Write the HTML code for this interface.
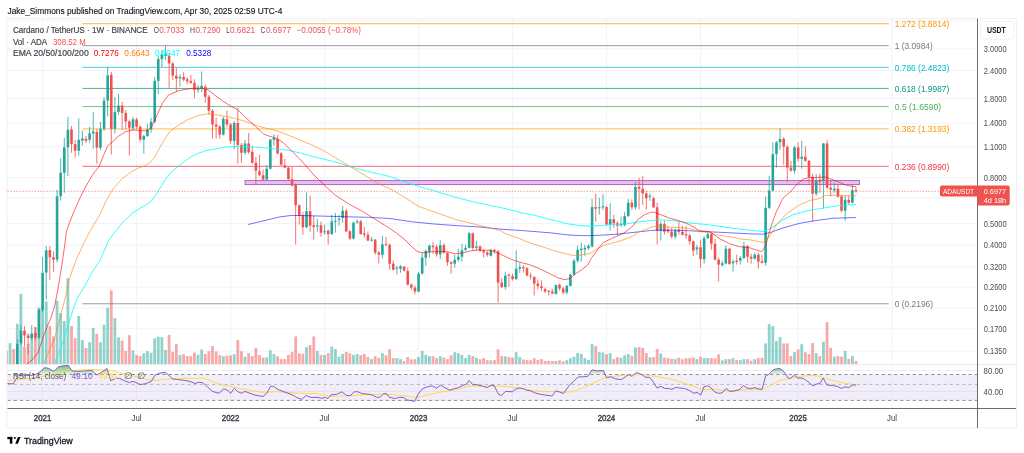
<!DOCTYPE html><html><head><meta charset="utf-8"><title>ADAUSDT chart</title><style>html,body{margin:0;padding:0;background:#fff;width:1024px;height:453px;overflow:hidden;position:relative}</style></head><body><svg width="1024" height="453" viewBox="0 0 1024 453" style="position:absolute;left:0;top:0;will-change:transform">
<defs><clipPath id="cp"><rect x="7" y="19" width="970.5" height="345.5"/></clipPath><clipPath id="cr"><rect x="7.5" y="365" width="970" height="43"/></clipPath><linearGradient id="gg" gradientUnits="userSpaceOnUse" x1="0" y1="364.5" x2="0" y2="374.5"><stop offset="0" stop-color="#4CAF50" stop-opacity="0.85"/><stop offset="1" stop-color="#4CAF50" stop-opacity="0.12"/></linearGradient></defs>
<rect x="7" y="18.5" width="1009.5" height="409.5" fill="#fff" stroke="#EEF0F4" stroke-width="1"/>
<line x1="42.6" y1="19" x2="42.6" y2="408" stroke="#F0F3FA" stroke-width="1"/>
<line x1="136.6" y1="19" x2="136.6" y2="408" stroke="#F0F3FA" stroke-width="1"/>
<line x1="230.6" y1="19" x2="230.6" y2="408" stroke="#F0F3FA" stroke-width="1"/>
<line x1="324.6" y1="19" x2="324.6" y2="408" stroke="#F0F3FA" stroke-width="1"/>
<line x1="418.6" y1="19" x2="418.6" y2="408" stroke="#F0F3FA" stroke-width="1"/>
<line x1="512.6" y1="19" x2="512.6" y2="408" stroke="#F0F3FA" stroke-width="1"/>
<line x1="606.5" y1="19" x2="606.5" y2="408" stroke="#F0F3FA" stroke-width="1"/>
<line x1="700.5" y1="19" x2="700.5" y2="408" stroke="#F0F3FA" stroke-width="1"/>
<line x1="798.1" y1="19" x2="798.1" y2="408" stroke="#F0F3FA" stroke-width="1"/>
<line x1="892.1" y1="19" x2="892.1" y2="408" stroke="#F0F3FA" stroke-width="1"/>
<line x1="7.5" y1="20.79" x2="977" y2="20.79" stroke="#F0F3FA" stroke-width="1"/>
<line x1="7.5" y1="48.84" x2="977" y2="48.84" stroke="#F0F3FA" stroke-width="1"/>
<line x1="7.5" y1="70.59" x2="977" y2="70.59" stroke="#F0F3FA" stroke-width="1"/>
<line x1="7.5" y1="98.64" x2="977" y2="98.64" stroke="#F0F3FA" stroke-width="1"/>
<line x1="7.5" y1="123.14" x2="977" y2="123.14" stroke="#F0F3FA" stroke-width="1"/>
<line x1="7.5" y1="146.66" x2="977" y2="146.66" stroke="#F0F3FA" stroke-width="1"/>
<line x1="7.5" y1="177.71" x2="977" y2="177.71" stroke="#F0F3FA" stroke-width="1"/>
<line x1="7.5" y1="197.95" x2="977" y2="197.95" stroke="#F0F3FA" stroke-width="1"/>
<line x1="7.5" y1="223.53" x2="977" y2="223.53" stroke="#F0F3FA" stroke-width="1"/>
<line x1="7.5" y1="245.29" x2="977" y2="245.29" stroke="#F0F3FA" stroke-width="1"/>
<line x1="7.5" y1="267.04" x2="977" y2="267.04" stroke="#F0F3FA" stroke-width="1"/>
<line x1="7.5" y1="287.29" x2="977" y2="287.29" stroke="#F0F3FA" stroke-width="1"/>
<line x1="7.5" y1="308.11" x2="977" y2="308.11" stroke="#F0F3FA" stroke-width="1"/>
<line x1="7.5" y1="328.71" x2="977" y2="328.71" stroke="#F0F3FA" stroke-width="1"/>
<line x1="7.5" y1="351.19" x2="977" y2="351.19" stroke="#F0F3FA" stroke-width="1"/>
<g clip-path="url(#cp)">
<rect x="5.05" y="350.9" width="2.8" height="13.4" fill="rgba(239,83,80,0.5)"/>
<rect x="8.66" y="343.1" width="2.8" height="21.2" fill="rgba(38,166,154,0.5)"/>
<rect x="12.28" y="349" width="2.8" height="15.3" fill="rgba(239,83,80,0.5)"/>
<rect x="15.9" y="323.8" width="2.8" height="40.5" fill="rgba(38,166,154,0.5)"/>
<rect x="19.51" y="293.9" width="2.8" height="70.4" fill="rgba(38,166,154,0.5)"/>
<rect x="23.12" y="346.6" width="2.8" height="17.7" fill="rgba(239,83,80,0.5)"/>
<rect x="26.74" y="343.7" width="2.8" height="20.6" fill="rgba(239,83,80,0.5)"/>
<rect x="30.36" y="335" width="2.8" height="29.3" fill="rgba(38,166,154,0.5)"/>
<rect x="33.97" y="327" width="2.8" height="37.3" fill="rgba(239,83,80,0.5)"/>
<rect x="37.59" y="308.1" width="2.8" height="56.2" fill="rgba(38,166,154,0.5)"/>
<rect x="41.2" y="306" width="2.8" height="58.3" fill="rgba(38,166,154,0.5)"/>
<rect x="44.82" y="301.5" width="2.8" height="62.8" fill="rgba(38,166,154,0.5)"/>
<rect x="48.43" y="326.1" width="2.8" height="38.2" fill="rgba(239,83,80,0.5)"/>
<rect x="52.05" y="336.4" width="2.8" height="27.9" fill="rgba(239,83,80,0.5)"/>
<rect x="55.66" y="300.6" width="2.8" height="63.7" fill="rgba(38,166,154,0.5)"/>
<rect x="59.28" y="313.1" width="2.8" height="51.2" fill="rgba(38,166,154,0.5)"/>
<rect x="62.89" y="321" width="2.8" height="43.3" fill="rgba(38,166,154,0.5)"/>
<rect x="66.5" y="278.2" width="2.8" height="86.1" fill="rgba(38,166,154,0.5)"/>
<rect x="70.12" y="326.1" width="2.8" height="38.2" fill="rgba(239,83,80,0.5)"/>
<rect x="73.73" y="338.1" width="2.8" height="26.2" fill="rgba(239,83,80,0.5)"/>
<rect x="77.35" y="316" width="2.8" height="48.3" fill="rgba(38,166,154,0.5)"/>
<rect x="80.97" y="340.2" width="2.8" height="24.1" fill="rgba(38,166,154,0.5)"/>
<rect x="84.58" y="348" width="2.8" height="16.3" fill="rgba(239,83,80,0.5)"/>
<rect x="88.19" y="342.3" width="2.8" height="22" fill="rgba(38,166,154,0.5)"/>
<rect x="91.81" y="327.9" width="2.8" height="36.4" fill="rgba(38,166,154,0.5)"/>
<rect x="95.42" y="333.9" width="2.8" height="30.4" fill="rgba(239,83,80,0.5)"/>
<rect x="99.04" y="342.3" width="2.8" height="22" fill="rgba(38,166,154,0.5)"/>
<rect x="102.66" y="324.7" width="2.8" height="39.6" fill="rgba(38,166,154,0.5)"/>
<rect x="106.27" y="307.8" width="2.8" height="56.5" fill="rgba(38,166,154,0.5)"/>
<rect x="109.88" y="290.4" width="2.8" height="73.9" fill="rgba(239,83,80,0.5)"/>
<rect x="113.5" y="318.1" width="2.8" height="46.2" fill="rgba(38,166,154,0.5)"/>
<rect x="117.12" y="337.4" width="2.8" height="26.9" fill="rgba(38,166,154,0.5)"/>
<rect x="120.73" y="340.6" width="2.8" height="23.7" fill="rgba(239,83,80,0.5)"/>
<rect x="124.34" y="350.9" width="2.8" height="13.4" fill="rgba(239,83,80,0.5)"/>
<rect x="127.96" y="335.2" width="2.8" height="29.1" fill="rgba(239,83,80,0.5)"/>
<rect x="131.57" y="350.5" width="2.8" height="13.8" fill="rgba(38,166,154,0.5)"/>
<rect x="135.19" y="355.1" width="2.8" height="9.2" fill="rgba(239,83,80,0.5)"/>
<rect x="138.81" y="356.1" width="2.8" height="8.2" fill="rgba(239,83,80,0.5)"/>
<rect x="142.42" y="353.3" width="2.8" height="11" fill="rgba(38,166,154,0.5)"/>
<rect x="146.03" y="351.2" width="2.8" height="13.1" fill="rgba(38,166,154,0.5)"/>
<rect x="149.65" y="352.8" width="2.8" height="11.5" fill="rgba(38,166,154,0.5)"/>
<rect x="153.27" y="338.4" width="2.8" height="25.9" fill="rgba(38,166,154,0.5)"/>
<rect x="156.88" y="336.8" width="2.8" height="27.5" fill="rgba(38,166,154,0.5)"/>
<rect x="160.5" y="337.1" width="2.8" height="27.2" fill="rgba(38,166,154,0.5)"/>
<rect x="164.11" y="350" width="2.8" height="14.3" fill="rgba(38,166,154,0.5)"/>
<rect x="167.72" y="334.9" width="2.8" height="29.4" fill="rgba(239,83,80,0.5)"/>
<rect x="171.34" y="351.8" width="2.8" height="12.5" fill="rgba(239,83,80,0.5)"/>
<rect x="174.95" y="344" width="2.8" height="20.3" fill="rgba(239,83,80,0.5)"/>
<rect x="178.57" y="355.1" width="2.8" height="9.2" fill="rgba(38,166,154,0.5)"/>
<rect x="182.19" y="354.3" width="2.8" height="10" fill="rgba(239,83,80,0.5)"/>
<rect x="185.8" y="356.1" width="2.8" height="8.2" fill="rgba(239,83,80,0.5)"/>
<rect x="189.41" y="356.1" width="2.8" height="8.2" fill="rgba(239,83,80,0.5)"/>
<rect x="193.03" y="352.5" width="2.8" height="11.8" fill="rgba(239,83,80,0.5)"/>
<rect x="196.65" y="354.8" width="2.8" height="9.5" fill="rgba(38,166,154,0.5)"/>
<rect x="200.26" y="349.4" width="2.8" height="14.9" fill="rgba(38,166,154,0.5)"/>
<rect x="203.88" y="354" width="2.8" height="10.3" fill="rgba(239,83,80,0.5)"/>
<rect x="207.49" y="351.2" width="2.8" height="13.1" fill="rgba(239,83,80,0.5)"/>
<rect x="211.1" y="346.1" width="2.8" height="18.2" fill="rgba(239,83,80,0.5)"/>
<rect x="214.72" y="351.5" width="2.8" height="12.8" fill="rgba(239,83,80,0.5)"/>
<rect x="218.34" y="355.1" width="2.8" height="9.2" fill="rgba(239,83,80,0.5)"/>
<rect x="221.95" y="356.1" width="2.8" height="8.2" fill="rgba(38,166,154,0.5)"/>
<rect x="225.56" y="355.6" width="2.8" height="8.7" fill="rgba(239,83,80,0.5)"/>
<rect x="229.18" y="355.3" width="2.8" height="9" fill="rgba(239,83,80,0.5)"/>
<rect x="232.79" y="354.3" width="2.8" height="10" fill="rgba(38,166,154,0.5)"/>
<rect x="236.41" y="340.2" width="2.8" height="24.1" fill="rgba(239,83,80,0.5)"/>
<rect x="240.03" y="351.2" width="2.8" height="13.1" fill="rgba(239,83,80,0.5)"/>
<rect x="243.64" y="356.6" width="2.8" height="7.7" fill="rgba(38,166,154,0.5)"/>
<rect x="247.25" y="353.2" width="2.8" height="11.1" fill="rgba(239,83,80,0.5)"/>
<rect x="250.87" y="356.1" width="2.8" height="8.2" fill="rgba(239,83,80,0.5)"/>
<rect x="254.49" y="348" width="2.8" height="16.3" fill="rgba(239,83,80,0.5)"/>
<rect x="258.1" y="355.1" width="2.8" height="9.2" fill="rgba(239,83,80,0.5)"/>
<rect x="261.72" y="357.6" width="2.8" height="6.7" fill="rgba(239,83,80,0.5)"/>
<rect x="265.33" y="357.2" width="2.8" height="7.1" fill="rgba(38,166,154,0.5)"/>
<rect x="268.95" y="350.3" width="2.8" height="14" fill="rgba(38,166,154,0.5)"/>
<rect x="272.56" y="354" width="2.8" height="10.3" fill="rgba(38,166,154,0.5)"/>
<rect x="276.18" y="356.3" width="2.8" height="8" fill="rgba(239,83,80,0.5)"/>
<rect x="279.79" y="359.1" width="2.8" height="5.2" fill="rgba(239,83,80,0.5)"/>
<rect x="283.41" y="359.1" width="2.8" height="5.2" fill="rgba(239,83,80,0.5)"/>
<rect x="287.02" y="354.9" width="2.8" height="9.4" fill="rgba(239,83,80,0.5)"/>
<rect x="290.64" y="351.9" width="2.8" height="12.4" fill="rgba(239,83,80,0.5)"/>
<rect x="294.25" y="336.4" width="2.8" height="27.9" fill="rgba(239,83,80,0.5)"/>
<rect x="297.87" y="353.2" width="2.8" height="11.1" fill="rgba(239,83,80,0.5)"/>
<rect x="301.48" y="353.7" width="2.8" height="10.6" fill="rgba(239,83,80,0.5)"/>
<rect x="305.1" y="347.1" width="2.8" height="17.2" fill="rgba(38,166,154,0.5)"/>
<rect x="308.71" y="345" width="2.8" height="19.3" fill="rgba(239,83,80,0.5)"/>
<rect x="312.33" y="336.4" width="2.8" height="27.9" fill="rgba(239,83,80,0.5)"/>
<rect x="315.94" y="350.9" width="2.8" height="13.4" fill="rgba(38,166,154,0.5)"/>
<rect x="319.56" y="354.9" width="2.8" height="9.4" fill="rgba(239,83,80,0.5)"/>
<rect x="323.17" y="354.9" width="2.8" height="9.4" fill="rgba(38,166,154,0.5)"/>
<rect x="326.79" y="353" width="2.8" height="11.3" fill="rgba(239,83,80,0.5)"/>
<rect x="330.4" y="346.5" width="2.8" height="17.8" fill="rgba(38,166,154,0.5)"/>
<rect x="334.02" y="349" width="2.8" height="15.3" fill="rgba(38,166,154,0.5)"/>
<rect x="337.63" y="356.6" width="2.8" height="7.7" fill="rgba(38,166,154,0.5)"/>
<rect x="341.25" y="354" width="2.8" height="10.3" fill="rgba(38,166,154,0.5)"/>
<rect x="344.86" y="351.9" width="2.8" height="12.4" fill="rgba(239,83,80,0.5)"/>
<rect x="348.48" y="353.2" width="2.8" height="11.1" fill="rgba(239,83,80,0.5)"/>
<rect x="352.09" y="354.9" width="2.8" height="9.4" fill="rgba(38,166,154,0.5)"/>
<rect x="355.71" y="354" width="2.8" height="10.3" fill="rgba(38,166,154,0.5)"/>
<rect x="359.32" y="355.1" width="2.8" height="9.2" fill="rgba(239,83,80,0.5)"/>
<rect x="362.94" y="354" width="2.8" height="10.3" fill="rgba(239,83,80,0.5)"/>
<rect x="366.55" y="357" width="2.8" height="7.3" fill="rgba(239,83,80,0.5)"/>
<rect x="370.17" y="359.1" width="2.8" height="5.2" fill="rgba(38,166,154,0.5)"/>
<rect x="373.78" y="356.2" width="2.8" height="8.1" fill="rgba(239,83,80,0.5)"/>
<rect x="377.4" y="357.8" width="2.8" height="6.5" fill="rgba(239,83,80,0.5)"/>
<rect x="381.01" y="353.2" width="2.8" height="11.1" fill="rgba(38,166,154,0.5)"/>
<rect x="384.63" y="355.3" width="2.8" height="9" fill="rgba(239,83,80,0.5)"/>
<rect x="388.24" y="349.3" width="2.8" height="15" fill="rgba(239,83,80,0.5)"/>
<rect x="391.86" y="358.1" width="2.8" height="6.2" fill="rgba(239,83,80,0.5)"/>
<rect x="395.47" y="358.1" width="2.8" height="6.2" fill="rgba(38,166,154,0.5)"/>
<rect x="399.09" y="359.1" width="2.8" height="5.2" fill="rgba(38,166,154,0.5)"/>
<rect x="402.7" y="361" width="2.8" height="3.3" fill="rgba(239,83,80,0.5)"/>
<rect x="406.32" y="357" width="2.8" height="7.3" fill="rgba(239,83,80,0.5)"/>
<rect x="409.93" y="359.3" width="2.8" height="5" fill="rgba(239,83,80,0.5)"/>
<rect x="413.55" y="359.1" width="2.8" height="5.2" fill="rgba(239,83,80,0.5)"/>
<rect x="417.16" y="357" width="2.8" height="7.3" fill="rgba(38,166,154,0.5)"/>
<rect x="420.78" y="350.9" width="2.8" height="13.4" fill="rgba(38,166,154,0.5)"/>
<rect x="424.39" y="354.9" width="2.8" height="9.4" fill="rgba(38,166,154,0.5)"/>
<rect x="428.01" y="356.2" width="2.8" height="8.1" fill="rgba(38,166,154,0.5)"/>
<rect x="431.62" y="356.1" width="2.8" height="8.2" fill="rgba(239,83,80,0.5)"/>
<rect x="435.24" y="358.1" width="2.8" height="6.2" fill="rgba(239,83,80,0.5)"/>
<rect x="438.85" y="356.2" width="2.8" height="8.1" fill="rgba(38,166,154,0.5)"/>
<rect x="442.47" y="357.6" width="2.8" height="6.7" fill="rgba(239,83,80,0.5)"/>
<rect x="446.08" y="359.1" width="2.8" height="5.2" fill="rgba(239,83,80,0.5)"/>
<rect x="449.7" y="355.3" width="2.8" height="9" fill="rgba(239,83,80,0.5)"/>
<rect x="453.31" y="352.2" width="2.8" height="12.1" fill="rgba(38,166,154,0.5)"/>
<rect x="456.93" y="353.2" width="2.8" height="11.1" fill="rgba(38,166,154,0.5)"/>
<rect x="460.54" y="354.9" width="2.8" height="9.4" fill="rgba(38,166,154,0.5)"/>
<rect x="464.16" y="358.1" width="2.8" height="6.2" fill="rgba(38,166,154,0.5)"/>
<rect x="467.77" y="354.9" width="2.8" height="9.4" fill="rgba(38,166,154,0.5)"/>
<rect x="471.39" y="356.1" width="2.8" height="8.2" fill="rgba(239,83,80,0.5)"/>
<rect x="475" y="357.8" width="2.8" height="6.5" fill="rgba(38,166,154,0.5)"/>
<rect x="478.62" y="359.3" width="2.8" height="5" fill="rgba(239,83,80,0.5)"/>
<rect x="482.23" y="358.1" width="2.8" height="6.2" fill="rgba(239,83,80,0.5)"/>
<rect x="485.85" y="360.1" width="2.8" height="4.2" fill="rgba(239,83,80,0.5)"/>
<rect x="489.46" y="360.3" width="2.8" height="4" fill="rgba(38,166,154,0.5)"/>
<rect x="493.08" y="360.1" width="2.8" height="4.2" fill="rgba(239,83,80,0.5)"/>
<rect x="496.69" y="349.4" width="2.8" height="14.9" fill="rgba(239,83,80,0.5)"/>
<rect x="500.31" y="356.2" width="2.8" height="8.1" fill="rgba(239,83,80,0.5)"/>
<rect x="503.92" y="356.3" width="2.8" height="8" fill="rgba(38,166,154,0.5)"/>
<rect x="507.54" y="357" width="2.8" height="7.3" fill="rgba(239,83,80,0.5)"/>
<rect x="511.15" y="357.6" width="2.8" height="6.7" fill="rgba(239,83,80,0.5)"/>
<rect x="514.77" y="352.2" width="2.8" height="12.1" fill="rgba(38,166,154,0.5)"/>
<rect x="518.38" y="357" width="2.8" height="7.3" fill="rgba(38,166,154,0.5)"/>
<rect x="522" y="359.5" width="2.8" height="4.8" fill="rgba(239,83,80,0.5)"/>
<rect x="525.61" y="360.1" width="2.8" height="4.2" fill="rgba(239,83,80,0.5)"/>
<rect x="529.23" y="360.3" width="2.8" height="4" fill="rgba(239,83,80,0.5)"/>
<rect x="532.84" y="358.2" width="2.8" height="6.1" fill="rgba(239,83,80,0.5)"/>
<rect x="536.46" y="360.1" width="2.8" height="4.2" fill="rgba(239,83,80,0.5)"/>
<rect x="540.07" y="359.1" width="2.8" height="5.2" fill="rgba(239,83,80,0.5)"/>
<rect x="543.69" y="361" width="2.8" height="3.3" fill="rgba(239,83,80,0.5)"/>
<rect x="547.3" y="361" width="2.8" height="3.3" fill="rgba(239,83,80,0.5)"/>
<rect x="550.92" y="361" width="2.8" height="3.3" fill="rgba(239,83,80,0.5)"/>
<rect x="554.53" y="361" width="2.8" height="3.3" fill="rgba(38,166,154,0.5)"/>
<rect x="558.15" y="360.3" width="2.8" height="4" fill="rgba(239,83,80,0.5)"/>
<rect x="561.76" y="361.2" width="2.8" height="3.1" fill="rgba(239,83,80,0.5)"/>
<rect x="565.38" y="360.1" width="2.8" height="4.2" fill="rgba(38,166,154,0.5)"/>
<rect x="568.99" y="358.1" width="2.8" height="6.2" fill="rgba(38,166,154,0.5)"/>
<rect x="572.61" y="356.6" width="2.8" height="7.7" fill="rgba(38,166,154,0.5)"/>
<rect x="576.22" y="353" width="2.8" height="11.3" fill="rgba(38,166,154,0.5)"/>
<rect x="579.84" y="354" width="2.8" height="10.3" fill="rgba(38,166,154,0.5)"/>
<rect x="583.45" y="358.1" width="2.8" height="6.2" fill="rgba(38,166,154,0.5)"/>
<rect x="587.07" y="360" width="2.8" height="4.3" fill="rgba(38,166,154,0.5)"/>
<rect x="590.68" y="344.2" width="2.8" height="20.1" fill="rgba(38,166,154,0.5)"/>
<rect x="594.3" y="346.1" width="2.8" height="18.2" fill="rgba(239,83,80,0.5)"/>
<rect x="597.91" y="352.2" width="2.8" height="12.1" fill="rgba(38,166,154,0.5)"/>
<rect x="601.53" y="352.5" width="2.8" height="11.8" fill="rgba(38,166,154,0.5)"/>
<rect x="605.14" y="354.3" width="2.8" height="10" fill="rgba(239,83,80,0.5)"/>
<rect x="608.76" y="353.2" width="2.8" height="11.1" fill="rgba(38,166,154,0.5)"/>
<rect x="612.37" y="359.1" width="2.8" height="5.2" fill="rgba(239,83,80,0.5)"/>
<rect x="615.99" y="357.2" width="2.8" height="7.1" fill="rgba(239,83,80,0.5)"/>
<rect x="619.6" y="357.8" width="2.8" height="6.5" fill="rgba(38,166,154,0.5)"/>
<rect x="623.22" y="355.3" width="2.8" height="9" fill="rgba(38,166,154,0.5)"/>
<rect x="626.83" y="354" width="2.8" height="10.3" fill="rgba(38,166,154,0.5)"/>
<rect x="630.45" y="355.7" width="2.8" height="8.6" fill="rgba(239,83,80,0.5)"/>
<rect x="634.06" y="347.4" width="2.8" height="16.9" fill="rgba(38,166,154,0.5)"/>
<rect x="637.68" y="347.1" width="2.8" height="17.2" fill="rgba(239,83,80,0.5)"/>
<rect x="641.29" y="347.8" width="2.8" height="16.5" fill="rgba(239,83,80,0.5)"/>
<rect x="644.91" y="353" width="2.8" height="11.3" fill="rgba(239,83,80,0.5)"/>
<rect x="648.52" y="357.2" width="2.8" height="7.1" fill="rgba(38,166,154,0.5)"/>
<rect x="652.14" y="357" width="2.8" height="7.3" fill="rgba(239,83,80,0.5)"/>
<rect x="655.75" y="349" width="2.8" height="15.3" fill="rgba(239,83,80,0.5)"/>
<rect x="659.37" y="353.4" width="2.8" height="10.9" fill="rgba(38,166,154,0.5)"/>
<rect x="662.98" y="357.6" width="2.8" height="6.7" fill="rgba(239,83,80,0.5)"/>
<rect x="666.6" y="358.1" width="2.8" height="6.2" fill="rgba(239,83,80,0.5)"/>
<rect x="670.21" y="358.8" width="2.8" height="5.5" fill="rgba(239,83,80,0.5)"/>
<rect x="673.83" y="359.1" width="2.8" height="5.2" fill="rgba(38,166,154,0.5)"/>
<rect x="677.44" y="357.6" width="2.8" height="6.7" fill="rgba(239,83,80,0.5)"/>
<rect x="681.06" y="359.3" width="2.8" height="5" fill="rgba(239,83,80,0.5)"/>
<rect x="684.67" y="358.2" width="2.8" height="6.1" fill="rgba(239,83,80,0.5)"/>
<rect x="688.29" y="358.1" width="2.8" height="6.2" fill="rgba(239,83,80,0.5)"/>
<rect x="691.9" y="357.6" width="2.8" height="6.7" fill="rgba(239,83,80,0.5)"/>
<rect x="695.52" y="359.1" width="2.8" height="5.2" fill="rgba(38,166,154,0.5)"/>
<rect x="699.13" y="356.6" width="2.8" height="7.7" fill="rgba(239,83,80,0.5)"/>
<rect x="702.75" y="358.1" width="2.8" height="6.2" fill="rgba(38,166,154,0.5)"/>
<rect x="706.36" y="358.1" width="2.8" height="6.2" fill="rgba(38,166,154,0.5)"/>
<rect x="709.98" y="358.1" width="2.8" height="6.2" fill="rgba(239,83,80,0.5)"/>
<rect x="713.59" y="358.5" width="2.8" height="5.8" fill="rgba(239,83,80,0.5)"/>
<rect x="717.21" y="354.4" width="2.8" height="9.9" fill="rgba(239,83,80,0.5)"/>
<rect x="720.82" y="360.3" width="2.8" height="4" fill="rgba(38,166,154,0.5)"/>
<rect x="724.44" y="359.1" width="2.8" height="5.2" fill="rgba(38,166,154,0.5)"/>
<rect x="728.05" y="359.1" width="2.8" height="5.2" fill="rgba(239,83,80,0.5)"/>
<rect x="731.67" y="358.2" width="2.8" height="6.1" fill="rgba(38,166,154,0.5)"/>
<rect x="735.28" y="360.1" width="2.8" height="4.2" fill="rgba(239,83,80,0.5)"/>
<rect x="738.9" y="360.1" width="2.8" height="4.2" fill="rgba(38,166,154,0.5)"/>
<rect x="742.51" y="359.1" width="2.8" height="5.2" fill="rgba(38,166,154,0.5)"/>
<rect x="746.13" y="359.1" width="2.8" height="5.2" fill="rgba(239,83,80,0.5)"/>
<rect x="749.74" y="360.7" width="2.8" height="3.6" fill="rgba(239,83,80,0.5)"/>
<rect x="753.36" y="359.1" width="2.8" height="5.2" fill="rgba(38,166,154,0.5)"/>
<rect x="756.97" y="358.1" width="2.8" height="6.2" fill="rgba(239,83,80,0.5)"/>
<rect x="760.59" y="357.8" width="2.8" height="6.5" fill="rgba(239,83,80,0.5)"/>
<rect x="764.2" y="343.4" width="2.8" height="20.9" fill="rgba(38,166,154,0.5)"/>
<rect x="767.82" y="324.1" width="2.8" height="40.2" fill="rgba(38,166,154,0.5)"/>
<rect x="771.43" y="326.1" width="2.8" height="38.2" fill="rgba(38,166,154,0.5)"/>
<rect x="775.05" y="341.1" width="2.8" height="23.2" fill="rgba(38,166,154,0.5)"/>
<rect x="778.66" y="337.1" width="2.8" height="27.2" fill="rgba(38,166,154,0.5)"/>
<rect x="782.28" y="343.4" width="2.8" height="20.9" fill="rgba(239,83,80,0.5)"/>
<rect x="785.89" y="343.4" width="2.8" height="20.9" fill="rgba(239,83,80,0.5)"/>
<rect x="789.51" y="355.9" width="2.8" height="8.4" fill="rgba(239,83,80,0.5)"/>
<rect x="793.12" y="352.2" width="2.8" height="12.1" fill="rgba(38,166,154,0.5)"/>
<rect x="796.74" y="349.4" width="2.8" height="14.9" fill="rgba(239,83,80,0.5)"/>
<rect x="800.35" y="344.2" width="2.8" height="20.1" fill="rgba(38,166,154,0.5)"/>
<rect x="803.97" y="352.2" width="2.8" height="12.1" fill="rgba(239,83,80,0.5)"/>
<rect x="807.58" y="354" width="2.8" height="10.3" fill="rgba(239,83,80,0.5)"/>
<rect x="811.2" y="343.1" width="2.8" height="21.2" fill="rgba(239,83,80,0.5)"/>
<rect x="814.81" y="353.2" width="2.8" height="11.1" fill="rgba(38,166,154,0.5)"/>
<rect x="818.43" y="356.1" width="2.8" height="8.2" fill="rgba(239,83,80,0.5)"/>
<rect x="822.04" y="341.8" width="2.8" height="22.5" fill="rgba(38,166,154,0.5)"/>
<rect x="825.66" y="322.2" width="2.8" height="42.1" fill="rgba(239,83,80,0.5)"/>
<rect x="829.27" y="347.8" width="2.8" height="16.5" fill="rgba(239,83,80,0.5)"/>
<rect x="832.89" y="356.6" width="2.8" height="7.7" fill="rgba(38,166,154,0.5)"/>
<rect x="836.5" y="356.1" width="2.8" height="8.2" fill="rgba(239,83,80,0.5)"/>
<rect x="840.12" y="356.6" width="2.8" height="7.7" fill="rgba(239,83,80,0.5)"/>
<rect x="843.73" y="350.9" width="2.8" height="13.4" fill="rgba(38,166,154,0.5)"/>
<rect x="847.35" y="358.8" width="2.8" height="5.5" fill="rgba(239,83,80,0.5)"/>
<rect x="850.96" y="356.1" width="2.8" height="8.2" fill="rgba(38,166,154,0.5)"/>
<rect x="854.58" y="361" width="2.8" height="3.3" fill="rgba(239,83,80,0.5)"/>
<line x1="82.5" y1="23.72" x2="888.7" y2="23.72" stroke="#FF9800" stroke-opacity="0.75" stroke-width="1"/>
<line x1="82.5" y1="45.69" x2="888.7" y2="45.69" stroke="#787B86" stroke-opacity="0.75" stroke-width="1"/>
<line x1="82.5" y1="67.31" x2="888.7" y2="67.31" stroke="#00BCD4" stroke-opacity="0.75" stroke-width="1"/>
<line x1="82.5" y1="88.43" x2="888.7" y2="88.43" stroke="#089981" stroke-opacity="0.75" stroke-width="1"/>
<line x1="82.5" y1="106.59" x2="888.7" y2="106.59" stroke="#4CAF50" stroke-opacity="0.75" stroke-width="1"/>
<line x1="82.5" y1="128.93" x2="888.7" y2="128.93" stroke="#FFB74D" stroke-opacity="0.55" stroke-width="1.8"/>
<line x1="82.5" y1="166.33" x2="888.7" y2="166.33" stroke="#F23645" stroke-opacity="0.75" stroke-width="1"/>
<line x1="82.5" y1="303.75" x2="888.7" y2="303.75" stroke="#787B86" stroke-opacity="0.75" stroke-width="1"/>
<rect x="245" y="180.6" width="614.5" height="4" fill="rgba(156,39,176,0.28)" stroke="#9C27B0" stroke-opacity="0.75" stroke-width="0.9"/>
<line x1="7.5" y1="191.3" x2="977" y2="191.3" stroke="#EF5350" stroke-opacity="0.7" stroke-width="1" stroke-dasharray="1.2,1.8"/>
<rect x="16.8" y="339.2" width="1" height="40.8" fill="#26A69A" fill-opacity="0.8"/>
<rect x="16" y="343.9" width="2.6" height="28.1" fill="#26A69A"/>
<rect x="20.41" y="325" width="1" height="20" fill="#26A69A" fill-opacity="0.8"/>
<rect x="19.61" y="330.7" width="2.6" height="12.4" fill="#26A69A"/>
<rect x="24.02" y="326.1" width="1" height="20.1" fill="#EF5350" fill-opacity="0.8"/>
<rect x="23.22" y="330.7" width="2.6" height="4.7" fill="#EF5350"/>
<rect x="27.64" y="333" width="1" height="21.7" fill="#EF5350" fill-opacity="0.8"/>
<rect x="26.84" y="335.4" width="2.6" height="2.6" fill="#EF5350"/>
<rect x="31.26" y="325" width="1" height="15" fill="#26A69A" fill-opacity="0.8"/>
<rect x="30.46" y="333.5" width="2.6" height="4.5" fill="#26A69A"/>
<rect x="34.87" y="327" width="1" height="13" fill="#EF5350" fill-opacity="0.8"/>
<rect x="34.07" y="333" width="2.6" height="4.7" fill="#EF5350"/>
<rect x="38.48" y="307.6" width="1" height="31.4" fill="#26A69A" fill-opacity="0.8"/>
<rect x="37.69" y="309.9" width="2.6" height="27.8" fill="#26A69A"/>
<rect x="42.1" y="257" width="1" height="55" fill="#26A69A" fill-opacity="0.8"/>
<rect x="41.3" y="272.9" width="2.6" height="37" fill="#26A69A"/>
<rect x="45.72" y="246" width="1" height="53.6" fill="#26A69A" fill-opacity="0.8"/>
<rect x="44.92" y="250.3" width="2.6" height="22.2" fill="#26A69A"/>
<rect x="49.33" y="246" width="1" height="33.8" fill="#EF5350" fill-opacity="0.8"/>
<rect x="48.53" y="250" width="2.6" height="7.2" fill="#EF5350"/>
<rect x="52.95" y="251.3" width="1" height="20.5" fill="#EF5350" fill-opacity="0.8"/>
<rect x="52.15" y="257.2" width="2.6" height="2.4" fill="#EF5350"/>
<rect x="56.56" y="189.7" width="1" height="72.8" fill="#26A69A" fill-opacity="0.8"/>
<rect x="55.76" y="196.3" width="2.6" height="63.3" fill="#26A69A"/>
<rect x="60.18" y="158.3" width="1" height="42.3" fill="#26A69A" fill-opacity="0.8"/>
<rect x="59.38" y="172.7" width="2.6" height="23.6" fill="#26A69A"/>
<rect x="63.79" y="137.8" width="1" height="54.9" fill="#26A69A" fill-opacity="0.8"/>
<rect x="62.99" y="147.4" width="2.6" height="25.4" fill="#26A69A"/>
<rect x="67.41" y="116.9" width="1" height="59.1" fill="#26A69A" fill-opacity="0.8"/>
<rect x="66.61" y="129.8" width="2.6" height="17.6" fill="#26A69A"/>
<rect x="71.02" y="125.8" width="1" height="26.9" fill="#EF5350" fill-opacity="0.8"/>
<rect x="70.22" y="129.4" width="2.6" height="14.7" fill="#EF5350"/>
<rect x="74.64" y="140" width="1" height="17.3" fill="#EF5350" fill-opacity="0.8"/>
<rect x="73.84" y="144.1" width="2.6" height="6.6" fill="#EF5350"/>
<rect x="78.25" y="118.3" width="1" height="37.4" fill="#26A69A" fill-opacity="0.8"/>
<rect x="77.45" y="139.8" width="2.6" height="10.9" fill="#26A69A"/>
<rect x="81.87" y="130.8" width="1" height="14.9" fill="#26A69A" fill-opacity="0.8"/>
<rect x="81.07" y="138.5" width="2.6" height="2" fill="#26A69A"/>
<rect x="85.48" y="136" width="1" height="7" fill="#EF5350" fill-opacity="0.8"/>
<rect x="84.68" y="138.8" width="2.6" height="2" fill="#EF5350"/>
<rect x="89.09" y="126.8" width="1" height="15.9" fill="#26A69A" fill-opacity="0.8"/>
<rect x="88.3" y="133.4" width="2.6" height="6.4" fill="#26A69A"/>
<rect x="92.71" y="112.3" width="1" height="36.4" fill="#26A69A" fill-opacity="0.8"/>
<rect x="91.91" y="131.5" width="2.6" height="2" fill="#26A69A"/>
<rect x="96.33" y="128.8" width="1" height="34.8" fill="#EF5350" fill-opacity="0.8"/>
<rect x="95.53" y="131.8" width="2.6" height="15.9" fill="#EF5350"/>
<rect x="99.94" y="121.9" width="1" height="28.1" fill="#26A69A" fill-opacity="0.8"/>
<rect x="99.14" y="128.8" width="2.6" height="18.9" fill="#26A69A"/>
<rect x="103.56" y="97" width="1" height="34" fill="#26A69A" fill-opacity="0.8"/>
<rect x="102.76" y="100.6" width="2.6" height="28.2" fill="#26A69A"/>
<rect x="107.17" y="66.8" width="1" height="49.7" fill="#26A69A" fill-opacity="0.8"/>
<rect x="106.37" y="75.4" width="2.6" height="25.2" fill="#26A69A"/>
<rect x="110.78" y="72" width="1" height="82.6" fill="#EF5350" fill-opacity="0.8"/>
<rect x="109.98" y="74.8" width="2.6" height="54" fill="#EF5350"/>
<rect x="114.4" y="97" width="1" height="36.7" fill="#26A69A" fill-opacity="0.8"/>
<rect x="113.6" y="111.9" width="2.6" height="16.9" fill="#26A69A"/>
<rect x="118.02" y="94" width="1" height="20.8" fill="#26A69A" fill-opacity="0.8"/>
<rect x="117.22" y="105.5" width="2.6" height="6.4" fill="#26A69A"/>
<rect x="121.63" y="101.9" width="1" height="27.9" fill="#EF5350" fill-opacity="0.8"/>
<rect x="120.83" y="105.5" width="2.6" height="7.4" fill="#EF5350"/>
<rect x="125.25" y="110" width="1" height="19.4" fill="#EF5350" fill-opacity="0.8"/>
<rect x="124.45" y="112.9" width="2.6" height="8.5" fill="#EF5350"/>
<rect x="128.86" y="119.8" width="1" height="35.8" fill="#EF5350" fill-opacity="0.8"/>
<rect x="128.06" y="121.4" width="2.6" height="6.4" fill="#EF5350"/>
<rect x="132.47" y="116.8" width="1" height="14" fill="#26A69A" fill-opacity="0.8"/>
<rect x="131.67" y="119.4" width="2.6" height="8.4" fill="#26A69A"/>
<rect x="136.09" y="117.8" width="1" height="11.2" fill="#EF5350" fill-opacity="0.8"/>
<rect x="135.29" y="119.4" width="2.6" height="7.4" fill="#EF5350"/>
<rect x="139.71" y="125.4" width="1" height="16.3" fill="#EF5350" fill-opacity="0.8"/>
<rect x="138.91" y="126.8" width="2.6" height="12.9" fill="#EF5350"/>
<rect x="143.32" y="134.7" width="1" height="18.9" fill="#26A69A" fill-opacity="0.8"/>
<rect x="142.52" y="136.1" width="2.6" height="3.6" fill="#26A69A"/>
<rect x="146.94" y="123.8" width="1" height="12.9" fill="#26A69A" fill-opacity="0.8"/>
<rect x="146.13" y="129.4" width="2.6" height="6.7" fill="#26A69A"/>
<rect x="150.55" y="117.8" width="1" height="14.9" fill="#26A69A" fill-opacity="0.8"/>
<rect x="149.75" y="121.8" width="2.6" height="7.6" fill="#26A69A"/>
<rect x="154.17" y="76.8" width="1" height="46.2" fill="#26A69A" fill-opacity="0.8"/>
<rect x="153.37" y="80.8" width="2.6" height="41" fill="#26A69A"/>
<rect x="157.78" y="56" width="1" height="38" fill="#26A69A" fill-opacity="0.8"/>
<rect x="156.98" y="59.1" width="2.6" height="21.7" fill="#26A69A"/>
<rect x="161.4" y="50" width="1" height="17" fill="#26A69A" fill-opacity="0.8"/>
<rect x="160.59" y="54.5" width="2.6" height="4.6" fill="#26A69A"/>
<rect x="165.01" y="45.6" width="1" height="14.4" fill="#26A69A" fill-opacity="0.8"/>
<rect x="164.21" y="53.5" width="2.6" height="2.5" fill="#26A69A"/>
<rect x="168.62" y="53" width="1" height="34.7" fill="#EF5350" fill-opacity="0.8"/>
<rect x="167.82" y="55.9" width="2.6" height="7.6" fill="#EF5350"/>
<rect x="172.24" y="62" width="1" height="18" fill="#EF5350" fill-opacity="0.8"/>
<rect x="171.44" y="63.5" width="2.6" height="12.1" fill="#EF5350"/>
<rect x="175.85" y="67.8" width="1" height="23.8" fill="#EF5350" fill-opacity="0.8"/>
<rect x="175.05" y="75.7" width="2.6" height="2.9" fill="#EF5350"/>
<rect x="179.47" y="74.2" width="1" height="12.3" fill="#26A69A" fill-opacity="0.8"/>
<rect x="178.67" y="77" width="2.6" height="1.4" fill="#26A69A"/>
<rect x="183.09" y="72.2" width="1" height="9.3" fill="#EF5350" fill-opacity="0.8"/>
<rect x="182.28" y="77" width="2.6" height="2.7" fill="#EF5350"/>
<rect x="186.7" y="77" width="1" height="7.5" fill="#EF5350" fill-opacity="0.8"/>
<rect x="185.9" y="79.2" width="2.6" height="2" fill="#EF5350"/>
<rect x="190.31" y="75" width="1" height="9" fill="#EF5350" fill-opacity="0.8"/>
<rect x="189.51" y="81" width="2.6" height="1.8" fill="#EF5350"/>
<rect x="193.93" y="79.3" width="1" height="18.9" fill="#EF5350" fill-opacity="0.8"/>
<rect x="193.13" y="82.9" width="2.6" height="7.1" fill="#EF5350"/>
<rect x="197.55" y="84.9" width="1" height="7.9" fill="#26A69A" fill-opacity="0.8"/>
<rect x="196.75" y="87.8" width="2.6" height="2" fill="#26A69A"/>
<rect x="201.16" y="71.5" width="1" height="20.3" fill="#26A69A" fill-opacity="0.8"/>
<rect x="200.36" y="85.8" width="2.6" height="3" fill="#26A69A"/>
<rect x="204.78" y="84.3" width="1" height="18.4" fill="#EF5350" fill-opacity="0.8"/>
<rect x="203.97" y="86.8" width="2.6" height="10" fill="#EF5350"/>
<rect x="208.39" y="95" width="1" height="19.7" fill="#EF5350" fill-opacity="0.8"/>
<rect x="207.59" y="96.8" width="2.6" height="13.9" fill="#EF5350"/>
<rect x="212" y="109" width="1" height="29.5" fill="#EF5350" fill-opacity="0.8"/>
<rect x="211.2" y="110.7" width="2.6" height="13.9" fill="#EF5350"/>
<rect x="215.62" y="117.7" width="1" height="20.8" fill="#EF5350" fill-opacity="0.8"/>
<rect x="214.82" y="124.6" width="2.6" height="2" fill="#EF5350"/>
<rect x="219.24" y="125" width="1" height="13.9" fill="#EF5350" fill-opacity="0.8"/>
<rect x="218.44" y="126.6" width="2.6" height="8" fill="#EF5350"/>
<rect x="222.85" y="116.7" width="1" height="18.8" fill="#26A69A" fill-opacity="0.8"/>
<rect x="222.05" y="118.6" width="2.6" height="16" fill="#26A69A"/>
<rect x="226.47" y="110.7" width="1" height="16.9" fill="#EF5350" fill-opacity="0.8"/>
<rect x="225.66" y="119.2" width="2.6" height="5.2" fill="#EF5350"/>
<rect x="230.08" y="123" width="1" height="20.9" fill="#EF5350" fill-opacity="0.8"/>
<rect x="229.28" y="124.4" width="2.6" height="16.5" fill="#EF5350"/>
<rect x="233.69" y="121" width="1" height="28.4" fill="#26A69A" fill-opacity="0.8"/>
<rect x="232.89" y="123" width="2.6" height="17.9" fill="#26A69A"/>
<rect x="237.31" y="107.7" width="1" height="56" fill="#EF5350" fill-opacity="0.8"/>
<rect x="236.51" y="123" width="2.6" height="21.9" fill="#EF5350"/>
<rect x="240.93" y="143" width="1" height="19.7" fill="#EF5350" fill-opacity="0.8"/>
<rect x="240.12" y="144.9" width="2.6" height="7.9" fill="#EF5350"/>
<rect x="244.54" y="139.9" width="1" height="14.9" fill="#26A69A" fill-opacity="0.8"/>
<rect x="243.74" y="143.5" width="2.6" height="9.3" fill="#26A69A"/>
<rect x="248.16" y="132.9" width="1" height="20.9" fill="#EF5350" fill-opacity="0.8"/>
<rect x="247.35" y="143.5" width="2.6" height="8.7" fill="#EF5350"/>
<rect x="251.77" y="145.8" width="1" height="17.9" fill="#EF5350" fill-opacity="0.8"/>
<rect x="250.97" y="151.8" width="2.6" height="10.9" fill="#EF5350"/>
<rect x="255.39" y="156.8" width="1" height="27.2" fill="#EF5350" fill-opacity="0.8"/>
<rect x="254.59" y="162.7" width="2.6" height="8" fill="#EF5350"/>
<rect x="259" y="154.8" width="1" height="20.9" fill="#EF5350" fill-opacity="0.8"/>
<rect x="258.2" y="171.3" width="2.6" height="4" fill="#EF5350"/>
<rect x="262.62" y="169.7" width="1" height="10.8" fill="#EF5350" fill-opacity="0.8"/>
<rect x="261.81" y="175.3" width="2.6" height="4.3" fill="#EF5350"/>
<rect x="266.23" y="164.7" width="1" height="15.2" fill="#26A69A" fill-opacity="0.8"/>
<rect x="265.43" y="168.7" width="2.6" height="10.9" fill="#26A69A"/>
<rect x="269.85" y="138.9" width="1" height="30.6" fill="#26A69A" fill-opacity="0.8"/>
<rect x="269.05" y="139.5" width="2.6" height="29.2" fill="#26A69A"/>
<rect x="273.46" y="134.3" width="1" height="11.5" fill="#26A69A" fill-opacity="0.8"/>
<rect x="272.66" y="137.9" width="2.6" height="2" fill="#26A69A"/>
<rect x="277.08" y="134.9" width="1" height="19.6" fill="#EF5350" fill-opacity="0.8"/>
<rect x="276.28" y="138.9" width="2.6" height="14.5" fill="#EF5350"/>
<rect x="280.69" y="152" width="1" height="13.7" fill="#EF5350" fill-opacity="0.8"/>
<rect x="279.89" y="153.4" width="2.6" height="11.3" fill="#EF5350"/>
<rect x="284.31" y="158.8" width="1" height="9.4" fill="#EF5350" fill-opacity="0.8"/>
<rect x="283.5" y="165.3" width="2.6" height="2.4" fill="#EF5350"/>
<rect x="287.92" y="166.7" width="1" height="12.9" fill="#EF5350" fill-opacity="0.8"/>
<rect x="287.12" y="167.7" width="2.6" height="11.5" fill="#EF5350"/>
<rect x="291.54" y="166.7" width="1" height="19.8" fill="#EF5350" fill-opacity="0.8"/>
<rect x="290.74" y="179.2" width="2.6" height="6.4" fill="#EF5350"/>
<rect x="295.15" y="183.5" width="1" height="61.1" fill="#EF5350" fill-opacity="0.8"/>
<rect x="294.35" y="184.6" width="2.6" height="20.8" fill="#EF5350"/>
<rect x="298.77" y="204" width="1" height="20.7" fill="#EF5350" fill-opacity="0.8"/>
<rect x="297.97" y="205.4" width="2.6" height="10.4" fill="#EF5350"/>
<rect x="302.38" y="211.8" width="1" height="22.9" fill="#EF5350" fill-opacity="0.8"/>
<rect x="301.58" y="215.4" width="2.6" height="11.9" fill="#EF5350"/>
<rect x="306" y="192.3" width="1" height="35.7" fill="#26A69A" fill-opacity="0.8"/>
<rect x="305.2" y="211.2" width="2.6" height="16.1" fill="#26A69A"/>
<rect x="309.61" y="195.5" width="1" height="36.6" fill="#EF5350" fill-opacity="0.8"/>
<rect x="308.81" y="211.2" width="2.6" height="14.5" fill="#EF5350"/>
<rect x="313.23" y="215.8" width="1" height="23.8" fill="#EF5350" fill-opacity="0.8"/>
<rect x="312.43" y="225.3" width="2.6" height="1.6" fill="#EF5350"/>
<rect x="316.84" y="218.8" width="1" height="12.9" fill="#26A69A" fill-opacity="0.8"/>
<rect x="316.04" y="225.3" width="2.6" height="1" fill="#26A69A"/>
<rect x="320.46" y="221.7" width="1" height="15" fill="#EF5350" fill-opacity="0.8"/>
<rect x="319.66" y="225.3" width="2.6" height="7.4" fill="#EF5350"/>
<rect x="324.07" y="224.7" width="1" height="10" fill="#26A69A" fill-opacity="0.8"/>
<rect x="323.27" y="231.3" width="2.6" height="1" fill="#26A69A"/>
<rect x="327.69" y="229.5" width="1" height="15.1" fill="#EF5350" fill-opacity="0.8"/>
<rect x="326.89" y="230.7" width="2.6" height="3.4" fill="#EF5350"/>
<rect x="331.3" y="214.8" width="1" height="20.2" fill="#26A69A" fill-opacity="0.8"/>
<rect x="330.5" y="221.4" width="2.6" height="12.7" fill="#26A69A"/>
<rect x="334.92" y="212.8" width="1" height="19.9" fill="#26A69A" fill-opacity="0.8"/>
<rect x="334.12" y="220.8" width="2.6" height="1" fill="#26A69A"/>
<rect x="338.53" y="214.8" width="1" height="10.9" fill="#26A69A" fill-opacity="0.8"/>
<rect x="337.73" y="218.8" width="2.6" height="1" fill="#26A69A"/>
<rect x="342.15" y="206.2" width="1" height="16.5" fill="#26A69A" fill-opacity="0.8"/>
<rect x="341.35" y="210.8" width="2.6" height="7" fill="#26A69A"/>
<rect x="345.76" y="208.8" width="1" height="23.2" fill="#EF5350" fill-opacity="0.8"/>
<rect x="344.96" y="210.8" width="2.6" height="20.5" fill="#EF5350"/>
<rect x="349.38" y="230" width="1" height="10" fill="#EF5350" fill-opacity="0.8"/>
<rect x="348.58" y="231.3" width="2.6" height="7.3" fill="#EF5350"/>
<rect x="352.99" y="221.7" width="1" height="17.8" fill="#26A69A" fill-opacity="0.8"/>
<rect x="352.19" y="222.7" width="2.6" height="15.9" fill="#26A69A"/>
<rect x="356.61" y="219.4" width="1" height="4.3" fill="#26A69A" fill-opacity="0.8"/>
<rect x="355.81" y="221.4" width="2.6" height="1.1" fill="#26A69A"/>
<rect x="360.22" y="219.8" width="1" height="14.9" fill="#EF5350" fill-opacity="0.8"/>
<rect x="359.42" y="221.4" width="2.6" height="12.7" fill="#EF5350"/>
<rect x="363.84" y="226.7" width="1" height="11" fill="#EF5350" fill-opacity="0.8"/>
<rect x="363.04" y="233.3" width="2.6" height="1.4" fill="#EF5350"/>
<rect x="367.45" y="231.3" width="1" height="9.7" fill="#EF5350" fill-opacity="0.8"/>
<rect x="366.65" y="234.7" width="2.6" height="5.9" fill="#EF5350"/>
<rect x="371.07" y="236.7" width="1" height="4.9" fill="#26A69A" fill-opacity="0.8"/>
<rect x="370.27" y="239.6" width="2.6" height="1" fill="#26A69A"/>
<rect x="374.68" y="239" width="1" height="15.6" fill="#EF5350" fill-opacity="0.8"/>
<rect x="373.88" y="239.6" width="2.6" height="13" fill="#EF5350"/>
<rect x="378.3" y="251" width="1" height="12.5" fill="#EF5350" fill-opacity="0.8"/>
<rect x="377.5" y="252.6" width="2.6" height="2" fill="#EF5350"/>
<rect x="381.91" y="235.9" width="1" height="22.6" fill="#26A69A" fill-opacity="0.8"/>
<rect x="381.11" y="244.4" width="2.6" height="10.4" fill="#26A69A"/>
<rect x="385.53" y="236.9" width="1" height="9.5" fill="#EF5350" fill-opacity="0.8"/>
<rect x="384.73" y="243.8" width="2.6" height="1" fill="#EF5350"/>
<rect x="389.14" y="243.5" width="1" height="26.2" fill="#EF5350" fill-opacity="0.8"/>
<rect x="388.34" y="244.8" width="2.6" height="18.9" fill="#EF5350"/>
<rect x="392.76" y="260.3" width="1" height="10.2" fill="#EF5350" fill-opacity="0.8"/>
<rect x="391.96" y="263.7" width="2.6" height="6" fill="#EF5350"/>
<rect x="396.37" y="265.7" width="1" height="8.9" fill="#26A69A" fill-opacity="0.8"/>
<rect x="395.57" y="267.7" width="2.6" height="1" fill="#26A69A"/>
<rect x="399.99" y="265.1" width="1" height="7.6" fill="#26A69A" fill-opacity="0.8"/>
<rect x="399.19" y="266.3" width="2.6" height="2.4" fill="#26A69A"/>
<rect x="403.6" y="265.7" width="1" height="5.8" fill="#EF5350" fill-opacity="0.8"/>
<rect x="402.8" y="266.7" width="2.6" height="4" fill="#EF5350"/>
<rect x="407.22" y="267.7" width="1" height="17.8" fill="#EF5350" fill-opacity="0.8"/>
<rect x="406.42" y="271.1" width="2.6" height="13.5" fill="#EF5350"/>
<rect x="410.83" y="283.5" width="1" height="6.6" fill="#EF5350" fill-opacity="0.8"/>
<rect x="410.03" y="284.6" width="2.6" height="3" fill="#EF5350"/>
<rect x="414.45" y="285.6" width="1" height="8.9" fill="#EF5350" fill-opacity="0.8"/>
<rect x="413.65" y="287.6" width="2.6" height="3.9" fill="#EF5350"/>
<rect x="418.06" y="271.7" width="1" height="20.6" fill="#26A69A" fill-opacity="0.8"/>
<rect x="417.26" y="273.6" width="2.6" height="17.9" fill="#26A69A"/>
<rect x="421.68" y="252.8" width="1" height="21.8" fill="#26A69A" fill-opacity="0.8"/>
<rect x="420.88" y="257.7" width="2.6" height="15.9" fill="#26A69A"/>
<rect x="425.29" y="249.8" width="1" height="15.9" fill="#26A69A" fill-opacity="0.8"/>
<rect x="424.49" y="250.8" width="2.6" height="6.9" fill="#26A69A"/>
<rect x="428.91" y="244.4" width="1" height="13.3" fill="#26A69A" fill-opacity="0.8"/>
<rect x="428.11" y="245.8" width="2.6" height="6" fill="#26A69A"/>
<rect x="432.52" y="241.8" width="1" height="12" fill="#EF5350" fill-opacity="0.8"/>
<rect x="431.72" y="245.8" width="2.6" height="1.4" fill="#EF5350"/>
<rect x="436.14" y="244.4" width="1" height="12.3" fill="#EF5350" fill-opacity="0.8"/>
<rect x="435.34" y="246.8" width="2.6" height="7.6" fill="#EF5350"/>
<rect x="439.75" y="239.9" width="1" height="19.2" fill="#26A69A" fill-opacity="0.8"/>
<rect x="438.95" y="245.2" width="2.6" height="9.2" fill="#26A69A"/>
<rect x="443.37" y="243.2" width="1" height="10.3" fill="#EF5350" fill-opacity="0.8"/>
<rect x="442.57" y="245.2" width="2.6" height="7.6" fill="#EF5350"/>
<rect x="446.98" y="252" width="1" height="13.7" fill="#EF5350" fill-opacity="0.8"/>
<rect x="446.18" y="252.8" width="2.6" height="9.3" fill="#EF5350"/>
<rect x="450.6" y="261.1" width="1" height="12.5" fill="#EF5350" fill-opacity="0.8"/>
<rect x="449.8" y="262.1" width="2.6" height="1.6" fill="#EF5350"/>
<rect x="454.21" y="254.8" width="1" height="12.9" fill="#26A69A" fill-opacity="0.8"/>
<rect x="453.41" y="259.7" width="2.6" height="4" fill="#26A69A"/>
<rect x="457.83" y="248.8" width="1" height="12.9" fill="#26A69A" fill-opacity="0.8"/>
<rect x="457.03" y="256.7" width="2.6" height="3" fill="#26A69A"/>
<rect x="461.44" y="243.8" width="1" height="17.9" fill="#26A69A" fill-opacity="0.8"/>
<rect x="460.64" y="250.4" width="2.6" height="6.3" fill="#26A69A"/>
<rect x="465.06" y="244.8" width="1" height="6.7" fill="#26A69A" fill-opacity="0.8"/>
<rect x="464.26" y="247.8" width="2.6" height="2" fill="#26A69A"/>
<rect x="468.67" y="231.9" width="1" height="16.6" fill="#26A69A" fill-opacity="0.8"/>
<rect x="467.87" y="233.3" width="2.6" height="14.5" fill="#26A69A"/>
<rect x="472.29" y="232.5" width="1" height="17.9" fill="#EF5350" fill-opacity="0.8"/>
<rect x="471.49" y="233.3" width="2.6" height="14.7" fill="#EF5350"/>
<rect x="475.9" y="240.8" width="1" height="9.6" fill="#26A69A" fill-opacity="0.8"/>
<rect x="475.1" y="246.4" width="2.6" height="1.4" fill="#26A69A"/>
<rect x="479.52" y="245.5" width="1" height="6.3" fill="#EF5350" fill-opacity="0.8"/>
<rect x="478.72" y="246.4" width="2.6" height="4.4" fill="#EF5350"/>
<rect x="483.13" y="249.2" width="1" height="8.5" fill="#EF5350" fill-opacity="0.8"/>
<rect x="482.33" y="250.8" width="2.6" height="1.6" fill="#EF5350"/>
<rect x="486.75" y="251.2" width="1" height="5.5" fill="#EF5350" fill-opacity="0.8"/>
<rect x="485.95" y="252.4" width="2.6" height="2.4" fill="#EF5350"/>
<rect x="490.36" y="248.8" width="1" height="7.7" fill="#26A69A" fill-opacity="0.8"/>
<rect x="489.56" y="249.8" width="2.6" height="6" fill="#26A69A"/>
<rect x="493.98" y="248.8" width="1" height="5" fill="#EF5350" fill-opacity="0.8"/>
<rect x="493.18" y="249.8" width="2.6" height="1.4" fill="#EF5350"/>
<rect x="497.59" y="250" width="1" height="52.5" fill="#EF5350" fill-opacity="0.8"/>
<rect x="496.79" y="251.2" width="2.6" height="31.4" fill="#EF5350"/>
<rect x="501.21" y="278.2" width="1" height="10" fill="#EF5350" fill-opacity="0.8"/>
<rect x="500.41" y="282.6" width="2.6" height="4.4" fill="#EF5350"/>
<rect x="504.82" y="271.7" width="1" height="17.9" fill="#26A69A" fill-opacity="0.8"/>
<rect x="504.02" y="275.6" width="2.6" height="11.4" fill="#26A69A"/>
<rect x="508.44" y="273.6" width="1" height="13.4" fill="#EF5350" fill-opacity="0.8"/>
<rect x="507.64" y="274.6" width="2.6" height="1.2" fill="#EF5350"/>
<rect x="512.05" y="273.6" width="1" height="7" fill="#EF5350" fill-opacity="0.8"/>
<rect x="511.25" y="276.2" width="2.6" height="2.8" fill="#EF5350"/>
<rect x="515.67" y="250.4" width="1" height="29.6" fill="#26A69A" fill-opacity="0.8"/>
<rect x="514.87" y="268.7" width="2.6" height="10.3" fill="#26A69A"/>
<rect x="519.28" y="262.7" width="1" height="10" fill="#26A69A" fill-opacity="0.8"/>
<rect x="518.48" y="267.1" width="2.6" height="1.6" fill="#26A69A"/>
<rect x="522.89" y="265" width="1" height="7.7" fill="#EF5350" fill-opacity="0.8"/>
<rect x="522.1" y="267.1" width="2.6" height="1.2" fill="#EF5350"/>
<rect x="526.51" y="267.1" width="1" height="9.1" fill="#EF5350" fill-opacity="0.8"/>
<rect x="525.71" y="268.3" width="2.6" height="7.3" fill="#EF5350"/>
<rect x="530.12" y="272.7" width="1" height="6.9" fill="#EF5350" fill-opacity="0.8"/>
<rect x="529.33" y="275.6" width="2.6" height="1" fill="#EF5350"/>
<rect x="533.74" y="276" width="1" height="19.5" fill="#EF5350" fill-opacity="0.8"/>
<rect x="532.94" y="277" width="2.6" height="6.6" fill="#EF5350"/>
<rect x="537.36" y="279.6" width="1" height="10" fill="#EF5350" fill-opacity="0.8"/>
<rect x="536.56" y="283.6" width="2.6" height="2.6" fill="#EF5350"/>
<rect x="540.97" y="280.2" width="1" height="10.9" fill="#EF5350" fill-opacity="0.8"/>
<rect x="540.17" y="286.2" width="2.6" height="2" fill="#EF5350"/>
<rect x="544.59" y="287.6" width="1" height="5.4" fill="#EF5350" fill-opacity="0.8"/>
<rect x="543.79" y="289" width="2.6" height="2.5" fill="#EF5350"/>
<rect x="548.2" y="290.1" width="1" height="5.4" fill="#EF5350" fill-opacity="0.8"/>
<rect x="547.4" y="290.9" width="2.6" height="1" fill="#EF5350"/>
<rect x="551.82" y="288.6" width="1" height="5.5" fill="#EF5350" fill-opacity="0.8"/>
<rect x="551.02" y="291.5" width="2.6" height="2" fill="#EF5350"/>
<rect x="555.43" y="284.6" width="1" height="9.9" fill="#26A69A" fill-opacity="0.8"/>
<rect x="554.63" y="285" width="2.6" height="9.1" fill="#26A69A"/>
<rect x="559.05" y="283.6" width="1" height="6.9" fill="#EF5350" fill-opacity="0.8"/>
<rect x="558.25" y="284.6" width="2.6" height="3.9" fill="#EF5350"/>
<rect x="562.66" y="286.6" width="1" height="7.9" fill="#EF5350" fill-opacity="0.8"/>
<rect x="561.86" y="288.5" width="2.6" height="4" fill="#EF5350"/>
<rect x="566.28" y="285" width="1" height="9.5" fill="#26A69A" fill-opacity="0.8"/>
<rect x="565.48" y="285.9" width="2.6" height="6.6" fill="#26A69A"/>
<rect x="569.89" y="273.6" width="1" height="12.9" fill="#26A69A" fill-opacity="0.8"/>
<rect x="569.09" y="274.6" width="2.6" height="11.3" fill="#26A69A"/>
<rect x="573.51" y="258.7" width="1" height="16.8" fill="#26A69A" fill-opacity="0.8"/>
<rect x="572.71" y="260.7" width="2.6" height="13.9" fill="#26A69A"/>
<rect x="577.12" y="245.8" width="1" height="16.9" fill="#26A69A" fill-opacity="0.8"/>
<rect x="576.32" y="249.8" width="2.6" height="10.9" fill="#26A69A"/>
<rect x="580.74" y="242.8" width="1" height="18.9" fill="#26A69A" fill-opacity="0.8"/>
<rect x="579.94" y="248.8" width="2.6" height="1.4" fill="#26A69A"/>
<rect x="584.35" y="244.8" width="1" height="10.9" fill="#26A69A" fill-opacity="0.8"/>
<rect x="583.55" y="247.8" width="2.6" height="1.6" fill="#26A69A"/>
<rect x="587.97" y="244.2" width="1" height="5.6" fill="#26A69A" fill-opacity="0.8"/>
<rect x="587.17" y="245.8" width="2.6" height="2.4" fill="#26A69A"/>
<rect x="591.58" y="198.8" width="1" height="48.7" fill="#26A69A" fill-opacity="0.8"/>
<rect x="590.78" y="207.1" width="2.6" height="39.4" fill="#26A69A"/>
<rect x="595.2" y="193.8" width="1" height="27.8" fill="#EF5350" fill-opacity="0.8"/>
<rect x="594.4" y="207.1" width="2.6" height="1.6" fill="#EF5350"/>
<rect x="598.81" y="197.8" width="1" height="16.9" fill="#26A69A" fill-opacity="0.8"/>
<rect x="598.01" y="207.3" width="2.6" height="1" fill="#26A69A"/>
<rect x="602.43" y="194.2" width="1" height="15.5" fill="#26A69A" fill-opacity="0.8"/>
<rect x="601.63" y="206.1" width="2.6" height="1.2" fill="#26A69A"/>
<rect x="606.04" y="205.7" width="1" height="19.8" fill="#EF5350" fill-opacity="0.8"/>
<rect x="605.24" y="207.1" width="2.6" height="17.5" fill="#EF5350"/>
<rect x="609.66" y="203.3" width="1" height="27.3" fill="#26A69A" fill-opacity="0.8"/>
<rect x="608.86" y="219.2" width="2.6" height="5.4" fill="#26A69A"/>
<rect x="613.27" y="214.7" width="1" height="13.2" fill="#EF5350" fill-opacity="0.8"/>
<rect x="612.47" y="219.2" width="2.6" height="4" fill="#EF5350"/>
<rect x="616.89" y="221" width="1" height="13.9" fill="#EF5350" fill-opacity="0.8"/>
<rect x="616.09" y="223.2" width="2.6" height="2.4" fill="#EF5350"/>
<rect x="620.5" y="216.7" width="1" height="10.3" fill="#26A69A" fill-opacity="0.8"/>
<rect x="619.7" y="224" width="2.6" height="1.2" fill="#26A69A"/>
<rect x="624.12" y="212.1" width="1" height="14.4" fill="#26A69A" fill-opacity="0.8"/>
<rect x="623.32" y="216.1" width="2.6" height="9.1" fill="#26A69A"/>
<rect x="627.73" y="198.8" width="1" height="18.2" fill="#26A69A" fill-opacity="0.8"/>
<rect x="626.93" y="202.7" width="2.6" height="13.4" fill="#26A69A"/>
<rect x="631.35" y="199.4" width="1" height="10.3" fill="#EF5350" fill-opacity="0.8"/>
<rect x="630.55" y="202.7" width="2.6" height="4.6" fill="#EF5350"/>
<rect x="634.96" y="181.9" width="1" height="27.8" fill="#26A69A" fill-opacity="0.8"/>
<rect x="634.16" y="186.8" width="2.6" height="20.5" fill="#26A69A"/>
<rect x="638.58" y="177.9" width="1" height="31.4" fill="#EF5350" fill-opacity="0.8"/>
<rect x="637.78" y="186.8" width="2.6" height="2" fill="#EF5350"/>
<rect x="642.19" y="175.9" width="1" height="28.8" fill="#EF5350" fill-opacity="0.8"/>
<rect x="641.39" y="188.8" width="2.6" height="4.6" fill="#EF5350"/>
<rect x="645.81" y="190.8" width="1" height="18.9" fill="#EF5350" fill-opacity="0.8"/>
<rect x="645.01" y="193.4" width="2.6" height="4.8" fill="#EF5350"/>
<rect x="649.42" y="193.4" width="1" height="7.4" fill="#26A69A" fill-opacity="0.8"/>
<rect x="648.62" y="195.8" width="2.6" height="1" fill="#26A69A"/>
<rect x="653.04" y="196.8" width="1" height="11.2" fill="#EF5350" fill-opacity="0.8"/>
<rect x="652.24" y="198.2" width="2.6" height="9.1" fill="#EF5350"/>
<rect x="656.65" y="202.7" width="1" height="41.8" fill="#EF5350" fill-opacity="0.8"/>
<rect x="655.85" y="207.3" width="2.6" height="23.3" fill="#EF5350"/>
<rect x="660.27" y="221.2" width="1" height="19.3" fill="#26A69A" fill-opacity="0.8"/>
<rect x="659.47" y="224" width="2.6" height="6.6" fill="#26A69A"/>
<rect x="663.88" y="220.6" width="1" height="14" fill="#EF5350" fill-opacity="0.8"/>
<rect x="663.08" y="224" width="2.6" height="7.6" fill="#EF5350"/>
<rect x="667.5" y="226.6" width="1" height="6.4" fill="#EF5350" fill-opacity="0.8"/>
<rect x="666.7" y="229.6" width="2.6" height="2" fill="#EF5350"/>
<rect x="671.11" y="227.6" width="1" height="10.9" fill="#EF5350" fill-opacity="0.8"/>
<rect x="670.31" y="231.6" width="2.6" height="5" fill="#EF5350"/>
<rect x="674.73" y="228.8" width="1" height="10" fill="#26A69A" fill-opacity="0.8"/>
<rect x="673.93" y="230.7" width="2.6" height="5.9" fill="#26A69A"/>
<rect x="678.34" y="221.9" width="1" height="12.9" fill="#EF5350" fill-opacity="0.8"/>
<rect x="677.54" y="229.8" width="2.6" height="2" fill="#EF5350"/>
<rect x="681.96" y="225.8" width="1" height="9.7" fill="#EF5350" fill-opacity="0.8"/>
<rect x="681.16" y="231.8" width="2.6" height="3" fill="#EF5350"/>
<rect x="685.57" y="225.8" width="1" height="13" fill="#EF5350" fill-opacity="0.8"/>
<rect x="684.77" y="234.2" width="2.6" height="1.2" fill="#EF5350"/>
<rect x="689.19" y="233.8" width="1" height="10.9" fill="#EF5350" fill-opacity="0.8"/>
<rect x="688.39" y="235.4" width="2.6" height="6" fill="#EF5350"/>
<rect x="692.8" y="240.5" width="1" height="15.6" fill="#EF5350" fill-opacity="0.8"/>
<rect x="692" y="241.4" width="2.6" height="9.3" fill="#EF5350"/>
<rect x="696.42" y="244.7" width="1" height="10" fill="#26A69A" fill-opacity="0.8"/>
<rect x="695.62" y="247.3" width="2.6" height="2" fill="#26A69A"/>
<rect x="700.03" y="239.8" width="1" height="27.8" fill="#EF5350" fill-opacity="0.8"/>
<rect x="699.23" y="247.3" width="2.6" height="11.9" fill="#EF5350"/>
<rect x="703.65" y="235.8" width="1" height="27.8" fill="#26A69A" fill-opacity="0.8"/>
<rect x="702.85" y="238.2" width="2.6" height="21" fill="#26A69A"/>
<rect x="707.26" y="232.8" width="1" height="6.2" fill="#26A69A" fill-opacity="0.8"/>
<rect x="706.46" y="234.2" width="2.6" height="4" fill="#26A69A"/>
<rect x="710.88" y="232.8" width="1" height="16.9" fill="#EF5350" fill-opacity="0.8"/>
<rect x="710.08" y="234.2" width="2.6" height="9.5" fill="#EF5350"/>
<rect x="714.49" y="238.8" width="1" height="21.7" fill="#EF5350" fill-opacity="0.8"/>
<rect x="713.69" y="243.7" width="2.6" height="15.9" fill="#EF5350"/>
<rect x="718.11" y="257.6" width="1" height="23.9" fill="#EF5350" fill-opacity="0.8"/>
<rect x="717.31" y="259.6" width="2.6" height="5" fill="#EF5350"/>
<rect x="721.72" y="260.6" width="1" height="6" fill="#26A69A" fill-opacity="0.8"/>
<rect x="720.92" y="263.2" width="2.6" height="2" fill="#26A69A"/>
<rect x="725.34" y="245.3" width="1" height="19.2" fill="#26A69A" fill-opacity="0.8"/>
<rect x="724.54" y="248.7" width="2.6" height="14.9" fill="#26A69A"/>
<rect x="728.95" y="247.7" width="1" height="17.3" fill="#EF5350" fill-opacity="0.8"/>
<rect x="728.15" y="248.7" width="2.6" height="15.3" fill="#EF5350"/>
<rect x="732.57" y="259.6" width="1" height="12" fill="#26A69A" fill-opacity="0.8"/>
<rect x="731.77" y="261.6" width="2.6" height="1.6" fill="#26A69A"/>
<rect x="736.18" y="254.7" width="1" height="9.9" fill="#EF5350" fill-opacity="0.8"/>
<rect x="735.38" y="260.6" width="2.6" height="1.4" fill="#EF5350"/>
<rect x="739.8" y="256" width="1" height="8.6" fill="#26A69A" fill-opacity="0.8"/>
<rect x="739" y="258" width="2.6" height="2.6" fill="#26A69A"/>
<rect x="743.41" y="241.7" width="1" height="17.3" fill="#26A69A" fill-opacity="0.8"/>
<rect x="742.61" y="246.1" width="2.6" height="11.9" fill="#26A69A"/>
<rect x="747.03" y="245" width="1" height="17.6" fill="#EF5350" fill-opacity="0.8"/>
<rect x="746.23" y="246.1" width="2.6" height="10.6" fill="#EF5350"/>
<rect x="750.64" y="253.7" width="1" height="9.9" fill="#EF5350" fill-opacity="0.8"/>
<rect x="749.84" y="256.7" width="2.6" height="1.9" fill="#EF5350"/>
<rect x="754.26" y="252.7" width="1" height="6.8" fill="#26A69A" fill-opacity="0.8"/>
<rect x="753.46" y="254.7" width="2.6" height="3.9" fill="#26A69A"/>
<rect x="757.87" y="252.7" width="1" height="15.9" fill="#EF5350" fill-opacity="0.8"/>
<rect x="757.07" y="254.7" width="2.6" height="6.9" fill="#EF5350"/>
<rect x="761.49" y="254.7" width="1" height="8.8" fill="#EF5350" fill-opacity="0.8"/>
<rect x="760.69" y="261.2" width="2.6" height="1.6" fill="#EF5350"/>
<rect x="765.1" y="196.5" width="1" height="69.1" fill="#26A69A" fill-opacity="0.8"/>
<rect x="764.3" y="207.8" width="2.6" height="55" fill="#26A69A"/>
<rect x="768.72" y="175.7" width="1" height="33.3" fill="#26A69A" fill-opacity="0.8"/>
<rect x="767.92" y="190.6" width="2.6" height="17.2" fill="#26A69A"/>
<rect x="772.33" y="142.3" width="1" height="49.2" fill="#26A69A" fill-opacity="0.8"/>
<rect x="771.53" y="154.2" width="2.6" height="36.4" fill="#26A69A"/>
<rect x="775.95" y="140.9" width="1" height="26.8" fill="#26A69A" fill-opacity="0.8"/>
<rect x="775.15" y="142.3" width="2.6" height="11.9" fill="#26A69A"/>
<rect x="779.56" y="128.3" width="1" height="21.5" fill="#26A69A" fill-opacity="0.8"/>
<rect x="778.76" y="138.9" width="2.6" height="3.4" fill="#26A69A"/>
<rect x="783.18" y="137" width="1" height="27.7" fill="#EF5350" fill-opacity="0.8"/>
<rect x="782.38" y="138.9" width="2.6" height="7.9" fill="#EF5350"/>
<rect x="786.79" y="144.9" width="1" height="37.1" fill="#EF5350" fill-opacity="0.8"/>
<rect x="785.99" y="146.8" width="2.6" height="20.9" fill="#EF5350"/>
<rect x="790.41" y="160.8" width="1" height="10.7" fill="#EF5350" fill-opacity="0.8"/>
<rect x="789.61" y="167.7" width="2.6" height="3" fill="#EF5350"/>
<rect x="794.02" y="145.8" width="1" height="27.9" fill="#26A69A" fill-opacity="0.8"/>
<rect x="793.22" y="147.4" width="2.6" height="23.3" fill="#26A69A"/>
<rect x="797.64" y="142.3" width="1" height="19.5" fill="#EF5350" fill-opacity="0.8"/>
<rect x="796.84" y="147.4" width="2.6" height="11.4" fill="#EF5350"/>
<rect x="801.25" y="140.9" width="1" height="27.8" fill="#26A69A" fill-opacity="0.8"/>
<rect x="800.45" y="156.8" width="2.6" height="2" fill="#26A69A"/>
<rect x="804.87" y="146.2" width="1" height="15.3" fill="#EF5350" fill-opacity="0.8"/>
<rect x="804.07" y="156.8" width="2.6" height="4" fill="#EF5350"/>
<rect x="808.48" y="159.8" width="1" height="23.4" fill="#EF5350" fill-opacity="0.8"/>
<rect x="807.68" y="160.8" width="2.6" height="16.1" fill="#EF5350"/>
<rect x="812.1" y="173.7" width="1" height="47.9" fill="#EF5350" fill-opacity="0.8"/>
<rect x="811.3" y="176.9" width="2.6" height="16.8" fill="#EF5350"/>
<rect x="815.71" y="174.4" width="1" height="21.4" fill="#26A69A" fill-opacity="0.8"/>
<rect x="814.91" y="181.2" width="2.6" height="12.5" fill="#26A69A"/>
<rect x="819.33" y="173.7" width="1" height="19.1" fill="#EF5350" fill-opacity="0.8"/>
<rect x="818.53" y="179.6" width="2.6" height="2" fill="#EF5350"/>
<rect x="822.94" y="142.9" width="1" height="65.8" fill="#26A69A" fill-opacity="0.8"/>
<rect x="822.14" y="143.5" width="2.6" height="37.1" fill="#26A69A"/>
<rect x="826.56" y="139.9" width="1" height="48.6" fill="#EF5350" fill-opacity="0.8"/>
<rect x="825.76" y="143.5" width="2.6" height="44.2" fill="#EF5350"/>
<rect x="830.17" y="180.6" width="1" height="15.9" fill="#EF5350" fill-opacity="0.8"/>
<rect x="829.37" y="187.7" width="2.6" height="2" fill="#EF5350"/>
<rect x="833.79" y="182.9" width="1" height="9.9" fill="#26A69A" fill-opacity="0.8"/>
<rect x="832.99" y="188.6" width="2.6" height="1.6" fill="#26A69A"/>
<rect x="837.4" y="183.8" width="1" height="13.7" fill="#EF5350" fill-opacity="0.8"/>
<rect x="836.6" y="188.8" width="2.6" height="7.8" fill="#EF5350"/>
<rect x="841.02" y="194.8" width="1" height="17.9" fill="#EF5350" fill-opacity="0.8"/>
<rect x="840.22" y="196.4" width="2.6" height="14.3" fill="#EF5350"/>
<rect x="844.63" y="195.4" width="1" height="25.2" fill="#26A69A" fill-opacity="0.8"/>
<rect x="843.83" y="199.8" width="2.6" height="10.9" fill="#26A69A"/>
<rect x="848.25" y="195.8" width="1" height="8.9" fill="#EF5350" fill-opacity="0.8"/>
<rect x="847.45" y="199.8" width="2.6" height="2.9" fill="#EF5350"/>
<rect x="851.86" y="184.9" width="1" height="18.6" fill="#26A69A" fill-opacity="0.8"/>
<rect x="851.06" y="190.2" width="2.6" height="12.5" fill="#26A69A"/>
<rect x="855.48" y="186.8" width="1" height="6" fill="#EF5350" fill-opacity="0.8"/>
<rect x="854.68" y="190.2" width="2.6" height="1.1" fill="#EF5350"/>
<polyline points="248.1,224.5 258.1,222.1 269.1,219.5 280.1,216.8 291.2,215.5 302.2,215.5 324.3,216.2 346.4,216.8 368.5,217.3 390,218.5 412.1,221.8 434.2,224 456.2,225.6 478.3,226.9 500.4,229.1 522.5,230.6 550,232.8 567.9,234.9 579.9,235.6 590,235.7 602.1,235.1 614.3,234.4 626.4,233.2 638.5,231.9 650.7,230.5 662.8,230.2 676,230.2 689.9,230.8 709.8,231.8 729.6,232.8 749.5,233.8 763.2,234.2 771.5,232.1 783.1,227.9 799.7,223.3 816.2,220.5 832.8,218.3 856,217.5" fill="none" stroke="#0000FF" stroke-width="1" stroke-opacity="0.55" stroke-linejoin="round"/>
<polyline points="55.2,364.1 55.8,360 60.5,349 65.1,335.8 68.4,323.8 72.4,311.9 76.4,300 83.8,287.7 93.1,270.5 99.7,261.2 104.5,250 109,240 114.2,233 122.1,223.3 132.7,212.7 143.3,206.5 151.3,201.2 155.7,195 159.5,189 166.1,178.4 172.7,170.5 180,165 189.5,157.6 197.5,153.6 206,150.6 216,148.8 227.9,146.8 239.9,146.2 251.8,146.8 263.7,147.8 275.6,148.8 287.6,150.2 299.5,152.8 313.3,156.6 335.3,162 357.4,168.7 379.5,174.2 390,176.6 412.1,184.3 434.2,190.9 456.2,197.5 478.3,203 500.4,207.5 522.5,213 535.6,215.5 550,219.6 556,220.9 567.9,223.9 579.9,225.5 590,226.3 602.1,225.4 614.3,224.4 626.4,223.8 638.5,222 650.7,220.5 659.5,219.8 670,220.3 689.9,222.9 709.8,224.9 729.6,227.8 749.5,230.2 763.2,231.6 771.5,227.9 783.1,219.7 793,214.7 808,210.6 822.8,208.1 839.4,205.6 856,204.6" fill="none" stroke="#00FFFF" stroke-width="1" stroke-opacity="0.8" stroke-linejoin="round"/>
<polyline points="44.1,364.1 45.2,360 49.9,349 54.5,338.4 57.8,326.5 61.1,313.2 64.7,300 66.4,293.9 68.7,281.3 72.4,270 77,258 82.1,247 85,241 87.8,235.3 93,225.9 100,214.4 104.4,204.7 106.5,200 113.1,189 122.4,178.4 130.3,172.5 137,168.5 144.9,165.8 150.2,162.5 154.2,157.9 159.5,148 164.5,139.7 169.6,131.7 177.6,125.8 187.5,119.8 197.5,115.8 207.8,113.7 215.8,114.7 227.7,116.7 239.6,119.6 251.5,123.6 259.5,126.6 267.5,128.6 272,129.2 279.6,131.9 287.6,134.9 300,140 313.3,145.5 324.3,151 335.3,157.7 346.4,164.3 357.4,170.9 368.5,177.5 379.5,184.2 390,188.7 403.2,196.4 418.7,206.4 434.2,211.9 456.2,219.6 470,223 478.3,225.1 489.9,227.9 500.4,230.6 505.8,233.9 517.7,237.9 529.6,242.8 545.5,247.8 557.5,251.8 564,253.3 571.9,255.3 579.9,255.3 586,254 590,253.5 597.3,248.7 604.6,245 614.3,242.6 624,239.6 632.5,236.3 638.5,232.3 645.8,229.3 653.1,226.6 660.4,226.2 670,227.1 681.9,227.8 689.9,228.8 699.8,231.4 709.8,232.8 719.7,235.4 729.6,236.8 739.6,238.8 750,239.9 763.2,242.5 769.9,236.2 776.5,224.6 786.4,213.9 799.7,204.8 809.6,200.6 819.5,198.5 824.5,195.7 832.8,195.2 842.7,195.7 856,195.7" fill="none" stroke="#FF7F00" stroke-width="1" stroke-opacity="0.6" stroke-linejoin="round"/>
<polyline points="26.5,364.1 32,360 37.9,353 43.2,337.1 47.2,326.5 51.2,317.2 54.5,306.6 55.8,300 58.6,285.1 61.1,270 64.5,247 66.4,231.5 69.5,222.7 74,211.4 79.5,199 84,190 86.6,185 93.2,173.8 99.2,166.5 103.8,154.6 107.8,145.6 111.8,142.3 115.8,139 117.6,136.8 125.5,131.8 133.5,129.8 139.8,130.8 147.8,130.8 151.7,126.8 157.7,113.7 162.5,103 168.5,95 178.5,90.8 187,89 196,88.2 201.8,88.4 207.8,89.8 215.8,95.8 223.7,101.7 231.7,106.7 237.6,109.7 245.6,117.5 255.5,126.5 263.5,134 269.7,136.3 275.6,137.9 283.6,142.9 291.5,150.8 299.5,158.8 306.6,166.5 313,174 322.1,183 335.3,195.2 350.8,205.1 361.6,210.8 368.5,215.1 373.5,218.2 386.1,226.1 395.9,232.7 403.9,238.9 411.8,246.8 417.8,251.8 423.7,252.8 431.7,251.8 439.6,251.4 447.6,251.8 455.5,253.8 463.5,252.8 470,251 478.3,250 489.9,250.4 497.8,252.8 503.8,255.8 513.7,260.3 521.7,262.7 529.6,264.7 539.6,268.7 549.5,273.6 557.5,277.6 564,279.6 569.9,278.6 575.9,273.6 581.8,269.6 587.8,265 591.2,258.4 597.3,249.9 603.3,242.6 611.8,238.4 619.1,235.3 624,232.9 631.3,227.5 638.5,219 644.6,214.7 650.7,212.3 654.3,212.3 659.2,214.1 670,218.3 679.9,220.9 689.9,224.9 699.8,230.8 709.8,231.8 719.7,238.8 729.6,243.7 739.6,246.7 749.5,247.7 761.5,251.7 765.6,246 769.2,233 772.8,221 776.5,211.4 783.1,198.1 791.4,190.7 796.4,184.9 803,179.1 809.6,177.5 816.2,177.5 824.5,177 831.1,179.1 839.4,182.4 847.7,185.7 856,186.8" fill="none" stroke="#FF0000" stroke-width="1" stroke-opacity="0.6" stroke-linejoin="round"/>
</g>
<line x1="7.5" y1="364.7" x2="1016" y2="364.7" stroke="#E8EAF0" stroke-width="1"/>
<g clip-path="url(#cr)">
<rect x="7.5" y="374.5" width="970" height="25.9" fill="rgba(126,87,194,0.1)"/>
<line x1="7.5" y1="370.6" x2="977" y2="370.6" stroke="#E9ECF5" stroke-width="1"/>
<line x1="7.5" y1="391.4" x2="977" y2="391.4" stroke="#E2DEF0" stroke-width="1"/>
<line x1="7.5" y1="374.5" x2="977" y2="374.5" stroke="#787B86" stroke-opacity="0.85" stroke-width="1" stroke-dasharray="3.2,3"/>
<line x1="7.5" y1="384.4" x2="977" y2="384.4" stroke="#787B86" stroke-opacity="0.5" stroke-width="1" stroke-dasharray="3.2,3"/>
<line x1="7.5" y1="400.4" x2="977" y2="400.4" stroke="#787B86" stroke-opacity="0.85" stroke-width="1" stroke-dasharray="3.2,3"/>
<clipPath id="ca"><rect x="7" y="360" width="975" height="14.5"/></clipPath>
<path d="M7,383.5 L13.3,383.9 L15.8,379.5 L18.3,375.8 L23.3,375.1 L29.5,375.5 L35.8,374.5 L40.8,371.4 L44.5,367.6 L48.3,368.3 L53.9,371.4 L58.3,367 L63.3,365.8 L68.3,365.5 L72,370.8 L77,371.4 L84.5,371 L92,370.5 L97,375.1 L102,372 L107,368.5 L110.8,380.8 L115.8,378.3 L119.5,378.3 L124.5,380.8 L129.5,382.6 L132,381.4 L135,382 L140,384.5 L145,383.9 L151.3,381.4 L155,375.1 L160,373 L165,372.3 L168.8,375.1 L172.5,378.9 L177.5,379.5 L185,380.5 L190,381.4 L195,383.5 L198.8,382.3 L202.5,382.6 L207.5,387 L212.5,391.4 L218.8,393.3 L223.8,388.9 L227.5,390.1 L230.6,393.3 L234.4,388.3 L237.5,391.4 L241.3,393.3 L245,391.4 L250,393.3 L255,395.1 L260,396 L263,396.4 L266.8,393.3 L270.5,386.4 L273.6,386.4 L278,389.5 L283,391.4 L288,393.3 L293,395.1 L296.8,397.6 L301.8,399.3 L306.1,395.5 L310.5,397.4 L318,397.4 L321.8,398.3 L325.5,397.4 L328,398.5 L331.1,394.8 L336.8,394.3 L341.8,391.8 L346.8,395.5 L350.5,395.5 L354.3,391.8 L358,391.8 L361.8,393.5 L365.5,393.9 L371.8,394.8 L376.8,397.4 L380.5,397 L383.6,393.5 L386.8,393.9 L389.3,397.3 L391,397.6 L394.8,398.5 L399.8,397.3 L403.5,397.6 L407.3,400.1 L411,400.5 L414.8,401.4 L417.9,394.5 L422.3,388.9 L427.3,386.8 L431,386 L433.5,386.4 L436.6,388.3 L440.4,385.1 L444.8,387.6 L449.8,390.1 L454.8,388.5 L458.5,387.6 L462.3,385.5 L466,384.5 L469.1,380.5 L472.9,384.8 L476,384.5 L479.8,385.5 L483.5,386.4 L487.3,387.6 L491,385.1 L494.1,385.5 L498.5,394.3 L501.6,395.5 L505.4,391.4 L512.3,391.8 L516,388.9 L519,388 L522.8,388.5 L526.5,390.1 L530.3,390.8 L535.3,393 L540.3,394.3 L545.3,395.1 L552.1,396 L555.9,390.8 L559.6,392 L563.4,393.5 L569,385.8 L574,380.8 L578.4,377 L582.8,376.8 L587.8,376.4 L592.1,369.8 L596.5,370.8 L603.4,370.5 L606.5,377.6 L610.9,376.8 L615.3,378.9 L621.5,379.5 L625.9,376.4 L629,374.5 L632.1,376.4 L635.9,372.6 L639,373.3 L642.8,375.1 L645.3,377.3 L649.5,377.3 L653.3,382 L657,388 L660.8,386.4 L664.5,388.3 L668.3,388.5 L672,389.3 L675.8,387.4 L679.5,388 L684.5,388.5 L689.5,390.5 L693.9,393.3 L697,392.3 L700.8,395.1 L703.9,386.8 L707.6,385.8 L710.8,387.6 L714.5,391.8 L718.3,393.3 L722,393 L726.4,388.3 L729.5,391.4 L734.5,391 L739.5,389.5 L743.3,385.5 L747,388 L750.8,388.5 L755.1,387.6 L758.3,388.9 L762,389.3 L765.7,375.8 L768.8,374.3 L773.1,369.8 L776.3,368.9 L780,368.5 L783.1,370.8 L785.6,373.9 L788.1,378.3 L790.6,378.3 L794.4,375.1 L797.5,378 L803.1,378.3 L807.5,381.4 L813.1,385.8 L816.9,383.9 L820,383.6 L823.1,378 L826.9,384.9 L832.5,385.5 L837.5,386.4 L841.3,388.5 L845,386.8 L848.8,387.6 L852.5,385.1 L856,384.9 L856,374.5 L7,374.5 Z" fill="url(#gg)" clip-path="url(#ca)"/>
<polyline points="7,380.8 19.5,379.5 32,378 44.5,376.4 57,373.3 69.5,371 82,369.8 94.5,369.5 107,370.1 119.5,372.6 132,375.8 135,376.4 147.5,379.5 157.5,380.5 163.8,379.3 172.5,378.9 185,378.3 203.8,378.3 212.5,381.4 220,384.3 230,386.4 240,388.5 252.5,390.8 263,392.4 275.5,391.6 288,392.6 300.5,393.3 316.8,393.5 323,395.1 331.8,396.4 344.3,396 358,395.1 370.5,394.5 383,394.3 391,394.4 403.5,395.8 416,397.6 428.5,394.8 441,392 453.5,389.8 466,387 473.5,386 486,386.4 498.5,386 511,387 519,388 531.5,390.5 544,391.6 556.5,391.6 569,392 575.3,390.5 581.5,388.3 589,385.1 596.5,381.4 604,378.3 614,376.4 626.5,374.8 639,374.5 647,375.1 659.5,377 672,379.3 684.5,383.3 697,387.6 703.3,389.3 715.8,389.5 728.3,390.8 740.8,390.1 753.3,389.3 762,389.8 766.3,387.6 772.5,384.3 778.8,381 785,379.3 792.5,377.6 800,376.4 810,375.5 817.5,376 825,378.3 835,381 845,383.3 856,385.1" fill="none" stroke="#FDD835" stroke-width="1" stroke-opacity="0.9" stroke-linejoin="round"/>
<polyline points="7,383.5 13.3,383.9 15.8,379.5 18.3,375.8 23.3,375.1 29.5,375.5 35.8,374.5 40.8,371.4 44.5,367.6 48.3,368.3 53.9,371.4 58.3,367 63.3,365.8 68.3,365.5 72,370.8 77,371.4 84.5,371 92,370.5 97,375.1 102,372 107,368.5 110.8,380.8 115.8,378.3 119.5,378.3 124.5,380.8 129.5,382.6 132,381.4 135,382 140,384.5 145,383.9 151.3,381.4 155,375.1 160,373 165,372.3 168.8,375.1 172.5,378.9 177.5,379.5 185,380.5 190,381.4 195,383.5 198.8,382.3 202.5,382.6 207.5,387 212.5,391.4 218.8,393.3 223.8,388.9 227.5,390.1 230.6,393.3 234.4,388.3 237.5,391.4 241.3,393.3 245,391.4 250,393.3 255,395.1 260,396 263,396.4 266.8,393.3 270.5,386.4 273.6,386.4 278,389.5 283,391.4 288,393.3 293,395.1 296.8,397.6 301.8,399.3 306.1,395.5 310.5,397.4 318,397.4 321.8,398.3 325.5,397.4 328,398.5 331.1,394.8 336.8,394.3 341.8,391.8 346.8,395.5 350.5,395.5 354.3,391.8 358,391.8 361.8,393.5 365.5,393.9 371.8,394.8 376.8,397.4 380.5,397 383.6,393.5 386.8,393.9 389.3,397.3 391,397.6 394.8,398.5 399.8,397.3 403.5,397.6 407.3,400.1 411,400.5 414.8,401.4 417.9,394.5 422.3,388.9 427.3,386.8 431,386 433.5,386.4 436.6,388.3 440.4,385.1 444.8,387.6 449.8,390.1 454.8,388.5 458.5,387.6 462.3,385.5 466,384.5 469.1,380.5 472.9,384.8 476,384.5 479.8,385.5 483.5,386.4 487.3,387.6 491,385.1 494.1,385.5 498.5,394.3 501.6,395.5 505.4,391.4 512.3,391.8 516,388.9 519,388 522.8,388.5 526.5,390.1 530.3,390.8 535.3,393 540.3,394.3 545.3,395.1 552.1,396 555.9,390.8 559.6,392 563.4,393.5 569,385.8 574,380.8 578.4,377 582.8,376.8 587.8,376.4 592.1,369.8 596.5,370.8 603.4,370.5 606.5,377.6 610.9,376.8 615.3,378.9 621.5,379.5 625.9,376.4 629,374.5 632.1,376.4 635.9,372.6 639,373.3 642.8,375.1 645.3,377.3 649.5,377.3 653.3,382 657,388 660.8,386.4 664.5,388.3 668.3,388.5 672,389.3 675.8,387.4 679.5,388 684.5,388.5 689.5,390.5 693.9,393.3 697,392.3 700.8,395.1 703.9,386.8 707.6,385.8 710.8,387.6 714.5,391.8 718.3,393.3 722,393 726.4,388.3 729.5,391.4 734.5,391 739.5,389.5 743.3,385.5 747,388 750.8,388.5 755.1,387.6 758.3,388.9 762,389.3 765.7,375.8 768.8,374.3 773.1,369.8 776.3,368.9 780,368.5 783.1,370.8 785.6,373.9 788.1,378.3 790.6,378.3 794.4,375.1 797.5,378 803.1,378.3 807.5,381.4 813.1,385.8 816.9,383.9 820,383.6 823.1,378 826.9,384.9 832.5,385.5 837.5,386.4 841.3,388.5 845,386.8 848.8,387.6 852.5,385.1 856,384.9" fill="none" stroke="#7E57C2" stroke-width="1" stroke-opacity="0.95" stroke-linejoin="round"/>
</g>
<line x1="977.5" y1="18.5" x2="977.5" y2="428" stroke="#6a6d78" stroke-width="1"/>
<line x1="7.5" y1="408.5" x2="1016" y2="408.5" stroke="#6a6d78" stroke-width="1"/>
<g font-family="'Liberation Sans', 'DejaVu Sans', sans-serif">
<text x="894.8" y="26.92" fill="#FF9800" font-size="9" font-weight="normal" text-anchor="start" textLength="54.5" lengthAdjust="spacingAndGlyphs">1.272 (3.8814)</text>
<text x="894.8" y="48.89" fill="#787B86" font-size="9" font-weight="normal" text-anchor="start" textLength="37.9" lengthAdjust="spacingAndGlyphs">1 (3.0984)</text>
<text x="894.8" y="70.51" fill="#00BCD4" font-size="9" font-weight="normal" text-anchor="start" textLength="54.5" lengthAdjust="spacingAndGlyphs">0.786 (2.4823)</text>
<text x="894.8" y="91.63" fill="#089981" font-size="9" font-weight="normal" text-anchor="start" textLength="54.5" lengthAdjust="spacingAndGlyphs">0.618 (1.9987)</text>
<text x="894.8" y="109.79" fill="#4CAF50" font-size="9" font-weight="normal" text-anchor="start" textLength="46.3" lengthAdjust="spacingAndGlyphs">0.5 (1.6590)</text>
<text x="894.8" y="132.13" fill="#FF9800" font-size="9" font-weight="normal" text-anchor="start" textLength="54.5" lengthAdjust="spacingAndGlyphs">0.382 (1.3193)</text>
<text x="894.8" y="169.53" fill="#F23645" font-size="9" font-weight="normal" text-anchor="start" textLength="54.5" lengthAdjust="spacingAndGlyphs">0.236 (0.8990)</text>
<text x="894.8" y="306.95" fill="#787B86" font-size="9" font-weight="normal" text-anchor="start" textLength="38.2" lengthAdjust="spacingAndGlyphs">0 (0.2196)</text>
<text x="983.8" y="52.04" fill="#4a4c55" font-size="9" font-weight="normal" text-anchor="start" textLength="22.8" lengthAdjust="spacingAndGlyphs">3.0000</text>
<text x="983.8" y="73.79" fill="#4a4c55" font-size="9" font-weight="normal" text-anchor="start" textLength="22.8" lengthAdjust="spacingAndGlyphs">2.4000</text>
<text x="983.8" y="101.84" fill="#4a4c55" font-size="9" font-weight="normal" text-anchor="start" textLength="22.8" lengthAdjust="spacingAndGlyphs">1.8000</text>
<text x="983.8" y="126.34" fill="#4a4c55" font-size="9" font-weight="normal" text-anchor="start" textLength="22.8" lengthAdjust="spacingAndGlyphs">1.4000</text>
<text x="983.8" y="149.86" fill="#4a4c55" font-size="9" font-weight="normal" text-anchor="start" textLength="22.8" lengthAdjust="spacingAndGlyphs">1.1000</text>
<text x="983.8" y="180.91" fill="#4a4c55" font-size="9" font-weight="normal" text-anchor="start" textLength="22.8" lengthAdjust="spacingAndGlyphs">0.8000</text>
<text x="983.8" y="226.73" fill="#4a4c55" font-size="9" font-weight="normal" text-anchor="start" textLength="22.8" lengthAdjust="spacingAndGlyphs">0.5000</text>
<text x="983.8" y="248.49" fill="#4a4c55" font-size="9" font-weight="normal" text-anchor="start" textLength="22.8" lengthAdjust="spacingAndGlyphs">0.4000</text>
<text x="983.8" y="270.24" fill="#4a4c55" font-size="9" font-weight="normal" text-anchor="start" textLength="22.8" lengthAdjust="spacingAndGlyphs">0.3200</text>
<text x="983.8" y="290.49" fill="#4a4c55" font-size="9" font-weight="normal" text-anchor="start" textLength="22.8" lengthAdjust="spacingAndGlyphs">0.2600</text>
<text x="983.8" y="311.31" fill="#4a4c55" font-size="9" font-weight="normal" text-anchor="start" textLength="22.8" lengthAdjust="spacingAndGlyphs">0.2100</text>
<text x="983.8" y="331.91" fill="#4a4c55" font-size="9" font-weight="normal" text-anchor="start" textLength="22.8" lengthAdjust="spacingAndGlyphs">0.1700</text>
<text x="983.8" y="354.39" fill="#4a4c55" font-size="9" font-weight="normal" text-anchor="start" textLength="22.8" lengthAdjust="spacingAndGlyphs">0.1350</text>
<text x="983.6" y="373.9" fill="#4a4c55" font-size="9" font-weight="normal" text-anchor="start" textLength="19.6" lengthAdjust="spacingAndGlyphs">80.00</text>
<text x="983.6" y="394.8" fill="#4a4c55" font-size="9" font-weight="normal" text-anchor="start" textLength="19.6" lengthAdjust="spacingAndGlyphs">40.00</text>
<rect x="980.3" y="21.3" width="33.7" height="18" rx="3" fill="#fff" stroke="#EEF0F4" stroke-width="0.8"/>
<text x="996.4" y="33.3" fill="#131722" font-size="8.2" font-weight="bold" text-anchor="middle" textLength="19" lengthAdjust="spacingAndGlyphs">USDT</text>
<path d="M942,185.6 H977.5 V196.6 H942 a2,2 0 0 1 -2,-2 V187.6 a2,2 0 0 1 2,-2 Z" fill="#EF5350"/>
<text x="942.9" y="194.1" fill="#fff" font-size="8" font-weight="normal" text-anchor="start" textLength="31.2" lengthAdjust="spacingAndGlyphs">ADAUSDT</text>
<path d="M977.5,185.6 H1007.7 a2,2 0 0 1 2,2 V203.5 a2,2 0 0 1 -2,2 H977.5 Z" fill="#EF5350"/>
<text x="983.7" y="194.1" fill="#fff" font-size="8" font-weight="normal" text-anchor="start" textLength="22.5" lengthAdjust="spacingAndGlyphs">0.6977</text>
<text x="983.7" y="203" fill="#fff" font-size="8" font-weight="normal" text-anchor="start" textLength="22.5" lengthAdjust="spacingAndGlyphs">4d 18h</text>
<text x="42.6" y="421.2" fill="#3a3e49" stroke="#3a3e49" stroke-width="0.45" font-size="8.8" font-weight="normal" text-anchor="middle" textLength="17.5" lengthAdjust="spacingAndGlyphs">2021</text>
<text x="136.6" y="421.2" fill="#3a3e49" font-size="8.8" font-weight="normal" text-anchor="middle" textLength="10" lengthAdjust="spacingAndGlyphs">Jul</text>
<text x="230.6" y="421.2" fill="#3a3e49" stroke="#3a3e49" stroke-width="0.45" font-size="8.8" font-weight="normal" text-anchor="middle" textLength="17.5" lengthAdjust="spacingAndGlyphs">2022</text>
<text x="324.6" y="421.2" fill="#3a3e49" font-size="8.8" font-weight="normal" text-anchor="middle" textLength="10" lengthAdjust="spacingAndGlyphs">Jul</text>
<text x="418.6" y="421.2" fill="#3a3e49" stroke="#3a3e49" stroke-width="0.45" font-size="8.8" font-weight="normal" text-anchor="middle" textLength="17.5" lengthAdjust="spacingAndGlyphs">2023</text>
<text x="512.6" y="421.2" fill="#3a3e49" font-size="8.8" font-weight="normal" text-anchor="middle" textLength="10" lengthAdjust="spacingAndGlyphs">Jul</text>
<text x="606.5" y="421.2" fill="#3a3e49" stroke="#3a3e49" stroke-width="0.45" font-size="8.8" font-weight="normal" text-anchor="middle" textLength="17.5" lengthAdjust="spacingAndGlyphs">2024</text>
<text x="700.5" y="421.2" fill="#3a3e49" font-size="8.8" font-weight="normal" text-anchor="middle" textLength="10" lengthAdjust="spacingAndGlyphs">Jul</text>
<text x="798.1" y="421.2" fill="#3a3e49" stroke="#3a3e49" stroke-width="0.45" font-size="8.8" font-weight="normal" text-anchor="middle" textLength="17.5" lengthAdjust="spacingAndGlyphs">2025</text>
<text x="892.1" y="421.2" fill="#3a3e49" font-size="8.8" font-weight="normal" text-anchor="middle" textLength="10" lengthAdjust="spacingAndGlyphs">Jul</text>
<text x="7.5" y="13.7" fill="#131722" stroke="#131722" stroke-width="0.15" font-size="8.5" font-weight="normal" text-anchor="start" textLength="274.8" lengthAdjust="spacingAndGlyphs">Jake_Simmons published on TradingView.com, Apr 30, 2025 02:59 UTC-4</text>
<text x="12.9" y="32.8" fill="#43454d" stroke="#43454d" stroke-width="0.2" font-size="9.0" font-weight="normal" text-anchor="start" textLength="134.7" lengthAdjust="spacingAndGlyphs">Cardano / TetherUS · 1W · BINANCE</text>
<text x="153.75" y="32.8" fill="#43454d" font-size="9.0" font-weight="normal" text-anchor="start" textLength="5.2" lengthAdjust="spacingAndGlyphs">O</text>
<text x="159.25" y="32.8" fill="#EF5350" font-size="9.0" font-weight="normal" text-anchor="start" textLength="25.2" lengthAdjust="spacingAndGlyphs">0.7033</text>
<text x="190" y="32.8" fill="#43454d" font-size="9.0" font-weight="normal" text-anchor="start" textLength="5" lengthAdjust="spacingAndGlyphs">H</text>
<text x="195.5" y="32.8" fill="#EF5350" font-size="9.0" font-weight="normal" text-anchor="start" textLength="25.2" lengthAdjust="spacingAndGlyphs">0.7290</text>
<text x="226.25" y="32.8" fill="#43454d" font-size="9.0" font-weight="normal" text-anchor="start" textLength="3.4" lengthAdjust="spacingAndGlyphs">L</text>
<text x="230" y="32.8" fill="#EF5350" font-size="9.0" font-weight="normal" text-anchor="start" textLength="25.2" lengthAdjust="spacingAndGlyphs">0.6821</text>
<text x="260.5" y="32.8" fill="#43454d" font-size="9.0" font-weight="normal" text-anchor="start" textLength="4.9" lengthAdjust="spacingAndGlyphs">C</text>
<text x="266" y="32.8" fill="#EF5350" font-size="9.0" font-weight="normal" text-anchor="start" textLength="25.2" lengthAdjust="spacingAndGlyphs">0.6977</text>
<text x="296.5" y="32.8" fill="#EF5350" font-size="9.0" font-weight="normal" text-anchor="start" textLength="64.5" lengthAdjust="spacingAndGlyphs">−0.0055 (−0.78%)</text>
<text x="12.9" y="44.6" fill="#43454d" stroke="#43454d" stroke-width="0.2" font-size="9.0" font-weight="normal" text-anchor="start" textLength="34.3" lengthAdjust="spacingAndGlyphs">Vol · ADA</text>
<text x="53" y="44.6" fill="#EF5350" font-size="9.0" font-weight="normal" text-anchor="start" textLength="32.7" lengthAdjust="spacingAndGlyphs">308.52 M</text>
<text x="12.9" y="56.3" fill="#43454d" stroke="#43454d" stroke-width="0.2" font-size="9.0" font-weight="normal" text-anchor="start" textLength="75.8" lengthAdjust="spacingAndGlyphs">EMA 20/50/100/200</text>
<text x="93.75" y="56.3" fill="#FF0000" font-size="9.0" font-weight="normal" text-anchor="start" textLength="25" lengthAdjust="spacingAndGlyphs">0.7276</text>
<text x="124.25" y="56.3" fill="#FF7F00" font-size="9.0" font-weight="normal" text-anchor="start" textLength="25.5" lengthAdjust="spacingAndGlyphs">0.6643</text>
<text x="155" y="56.3" fill="#00FFFF" font-size="9.0" font-weight="normal" text-anchor="start" textLength="25" lengthAdjust="spacingAndGlyphs">0.6047</text>
<text x="186.25" y="56.3" fill="#0000FF" font-size="9.0" font-weight="normal" text-anchor="start" textLength="25" lengthAdjust="spacingAndGlyphs">0.5328</text>
<text x="12.9" y="378.9" fill="#50535c" font-size="9.0" font-weight="normal" text-anchor="start" textLength="53.4" lengthAdjust="spacingAndGlyphs">RSI (14, close)</text>
<text x="71.4" y="378.9" fill="#7E57C2" font-size="9.0" font-weight="normal" text-anchor="start" textLength="21.3" lengthAdjust="spacingAndGlyphs">49.10</text>
<text x="99" y="378.9" fill="#FDD835" font-size="9.0" font-weight="normal" text-anchor="start" textLength="18.6" lengthAdjust="spacingAndGlyphs">49.61</text>
<text x="124.2" y="378.9" fill="#555" font-size="9.0" font-weight="normal" text-anchor="start" textLength="8.8" lengthAdjust="spacingAndGlyphs">∅</text>
<text x="137.4" y="378.9" fill="#555" font-size="9.0" font-weight="normal" text-anchor="start" textLength="8" lengthAdjust="spacingAndGlyphs">∅</text>
<text x="23.9" y="443.75" fill="#131722" stroke="#131722" stroke-width="0.3" font-size="9.6" font-weight="normal" text-anchor="start" textLength="48.9" lengthAdjust="spacingAndGlyphs">TradingView</text>
</g>
<g fill="#000"><rect x="7.35" y="436.9" width="4.95" height="2.3"/><rect x="9.8" y="436.9" width="2.5" height="6.75"/><circle cx="14.9" cy="437.9" r="1"/><path d="M18.0,436.9 L20.5,436.9 L17.9,443.65 L15.2,443.65 Z"/></g>
</svg></body></html>
